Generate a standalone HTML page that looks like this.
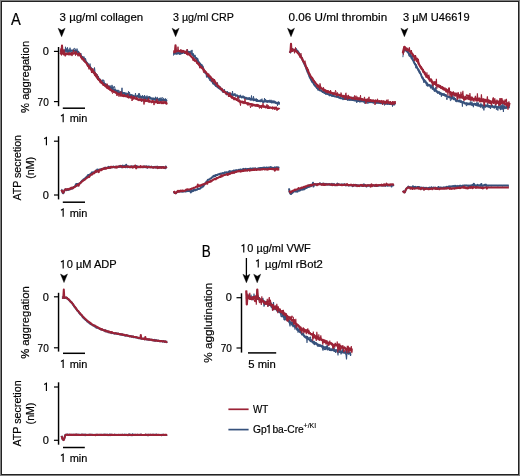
<!DOCTYPE html>
<html><head><meta charset="utf-8"><style>
html,body{margin:0;padding:0;background:#fff;}
#fig{position:relative;width:520px;height:476px;overflow:hidden;background:#fff;}
#fig svg{position:absolute;left:0;top:0;will-change:transform;}
text{font-family:"Liberation Sans", sans-serif;fill:#000;stroke:#000;stroke-width:0.2px;}
.one{fill-opacity:0;stroke-opacity:0;}
</style></head><body><div id="fig">
<svg width="520" height="476" viewBox="0 0 520 476">
<rect x="0.5" y="0.5" width="519" height="475" fill="none" stroke="#808080" stroke-width="1"/>
<rect x="1.5" y="1.5" width="517" height="473" fill="none" stroke="#222" stroke-width="1"/>
<text x="11.0" y="25" font-size="16.4" text-anchor="start" textLength="9.8" lengthAdjust="spacingAndGlyphs" >A</text>
<text x="201.8" y="257.0" font-size="16.4" text-anchor="start" textLength="9.0" lengthAdjust="spacingAndGlyphs" >B</text>
<text x="59.6" y="20.5" font-size="11" text-anchor="start" textLength="83.6" lengthAdjust="spacingAndGlyphs" >3 µg/ml collagen</text>
<text x="173.0" y="20.5" font-size="11" text-anchor="start" textLength="60.8" lengthAdjust="spacingAndGlyphs" >3 µg/ml CRP</text>
<text x="288.6" y="20.5" font-size="11" text-anchor="start" textLength="98.6" lengthAdjust="spacingAndGlyphs" >0.06 U/ml thrombin</text>
<text id="t5" x="403.0" y="20.5" font-size="11" text-anchor="start" textLength="66.6" lengthAdjust="spacingAndGlyphs" >3 µM U466<tspan class="one">1</tspan>9</text>
<path d="M458.30,14.12 L460.50,12.80 L460.50,20.50" fill="none" stroke="#000" stroke-width="1.16" stroke-linejoin="miter" stroke-linecap="butt"/>
<path d="M58.1,28.2 L61.6,30.2 L65.1,28.2 L61.6,36.7 Z" fill="#000" stroke="#000" stroke-width="0.4" stroke-linejoin="round"/>
<path d="M172.1,28.2 L175.6,30.2 L179.1,28.2 L175.6,36.7 Z" fill="#000" stroke="#000" stroke-width="0.4" stroke-linejoin="round"/>
<path d="M287.5,28.2 L291.0,30.2 L294.5,28.2 L291.0,36.7 Z" fill="#000" stroke="#000" stroke-width="0.4" stroke-linejoin="round"/>
<path d="M400.9,28.2 L404.4,30.2 L407.9,28.2 L404.4,36.7 Z" fill="#000" stroke="#000" stroke-width="0.4" stroke-linejoin="round"/>
<line x1="58.55" y1="47" x2="58.55" y2="106.2" stroke="#000" stroke-width="1.45"/>
<line x1="53.949999999999996" y1="51.4" x2="58.55" y2="51.4" stroke="#000" stroke-width="1.2"/>
<text x="48.75" y="55.35" font-size="11" text-anchor="end" >0</text>
<line x1="53.949999999999996" y1="101.6" x2="58.55" y2="101.6" stroke="#000" stroke-width="1.2"/>
<text x="48.75" y="105.55" font-size="11" text-anchor="end" textLength="11.2" lengthAdjust="spacingAndGlyphs" >70</text>
<text transform="translate(29.1,76.9) rotate(-90)" font-size="11.8" text-anchor="middle" textLength="72.0" lengthAdjust="spacingAndGlyphs">% aggregation</text>
<line x1="62.8" y1="108.2" x2="85.0" y2="108.2" stroke="#000" stroke-width="1.5"/>
<text id="t8" x="60.6" y="122.3" font-size="11" text-anchor="start" textLength="26.8" lengthAdjust="spacingAndGlyphs" ><tspan class="one">1</tspan> min</text>
<path d="M60.96,115.92 L63.16,114.60 L63.16,122.30" fill="none" stroke="#000" stroke-width="1.16" stroke-linejoin="miter" stroke-linecap="butt"/>
<line x1="58.55" y1="136.2" x2="58.55" y2="199.4" stroke="#000" stroke-width="1.45"/>
<line x1="53.949999999999996" y1="141.2" x2="58.55" y2="141.2" stroke="#000" stroke-width="1.2"/>
<text id="t9" x="48.75" y="145.14999999999998" font-size="11" text-anchor="end" ><tspan class="one">1</tspan></text>
<path d="M44.22,138.77 L46.42,137.45 L46.42,145.15" fill="none" stroke="#000" stroke-width="1.16" stroke-linejoin="miter" stroke-linecap="butt"/>
<line x1="53.949999999999996" y1="195.0" x2="58.55" y2="195.0" stroke="#000" stroke-width="1.2"/>
<text x="48.75" y="198.95" font-size="11" text-anchor="end" >0</text>
<text transform="translate(21.2,167.8) rotate(-90)" font-size="11.5" text-anchor="middle" textLength="65.6" lengthAdjust="spacingAndGlyphs">ATP secretion</text>
<text transform="translate(34.2,167.8) rotate(-90)" font-size="11" text-anchor="middle" textLength="21.8" lengthAdjust="spacingAndGlyphs">(nM)</text>
<line x1="62.8" y1="202.2" x2="85.0" y2="202.2" stroke="#000" stroke-width="1.5"/>
<text id="t11" x="60.6" y="216.7" font-size="11" text-anchor="start" textLength="26.8" lengthAdjust="spacingAndGlyphs" ><tspan class="one">1</tspan> min</text>
<path d="M60.96,210.32 L63.16,209.00 L63.16,216.70" fill="none" stroke="#000" stroke-width="1.16" stroke-linejoin="miter" stroke-linecap="butt"/>
<text id="t12" x="60.6" y="268.4" font-size="11" text-anchor="start" textLength="56.0" lengthAdjust="spacingAndGlyphs" ><tspan class="one">1</tspan>0 µM ADP</text>
<path d="M60.98,262.02 L63.18,260.70 L63.18,268.40" fill="none" stroke="#000" stroke-width="1.16" stroke-linejoin="miter" stroke-linecap="butt"/>
<path d="M60.5,274.0 L64.0,276.0 L67.5,274.0 L64.0,282.6 Z" fill="#000" stroke="#000" stroke-width="0.4" stroke-linejoin="round"/>
<line x1="58.55" y1="292.8" x2="58.55" y2="351.6" stroke="#000" stroke-width="1.45"/>
<line x1="53.949999999999996" y1="296.8" x2="58.55" y2="296.8" stroke="#000" stroke-width="1.2"/>
<text x="48.75" y="300.75" font-size="11" text-anchor="end" >0</text>
<line x1="53.949999999999996" y1="347.8" x2="58.55" y2="347.8" stroke="#000" stroke-width="1.2"/>
<text x="48.75" y="351.75" font-size="11" text-anchor="end" textLength="11.2" lengthAdjust="spacingAndGlyphs" >70</text>
<text transform="translate(29.1,322.5) rotate(-90)" font-size="11.8" text-anchor="middle" textLength="72.6" lengthAdjust="spacingAndGlyphs">% aggregation</text>
<line x1="63.0" y1="353.3" x2="85.0" y2="353.3" stroke="#000" stroke-width="1.5"/>
<text id="t15" x="60.6" y="368.0" font-size="11" text-anchor="start" textLength="26.8" lengthAdjust="spacingAndGlyphs" ><tspan class="one">1</tspan> min</text>
<path d="M60.96,361.62 L63.16,360.30 L63.16,368.00" fill="none" stroke="#000" stroke-width="1.16" stroke-linejoin="miter" stroke-linecap="butt"/>
<line x1="58.55" y1="382.3" x2="58.55" y2="444.7" stroke="#000" stroke-width="1.45"/>
<line x1="53.949999999999996" y1="387.0" x2="58.55" y2="387.0" stroke="#000" stroke-width="1.2"/>
<text id="t16" x="48.75" y="390.95" font-size="11" text-anchor="end" ><tspan class="one">1</tspan></text>
<path d="M44.22,384.57 L46.42,383.25 L46.42,390.95" fill="none" stroke="#000" stroke-width="1.16" stroke-linejoin="miter" stroke-linecap="butt"/>
<line x1="53.949999999999996" y1="440.3" x2="58.55" y2="440.3" stroke="#000" stroke-width="1.2"/>
<text x="48.75" y="444.25" font-size="11" text-anchor="end" >0</text>
<text transform="translate(21.2,413.5) rotate(-90)" font-size="11.5" text-anchor="middle" textLength="66.2" lengthAdjust="spacingAndGlyphs">ATP secretion</text>
<text transform="translate(34.2,413.5) rotate(-90)" font-size="11" text-anchor="middle" textLength="21.8" lengthAdjust="spacingAndGlyphs">(nM)</text>
<line x1="63.0" y1="447.5" x2="84.8" y2="447.5" stroke="#000" stroke-width="1.5"/>
<text id="t18" x="60.6" y="462.0" font-size="11" text-anchor="start" textLength="26.8" lengthAdjust="spacingAndGlyphs" ><tspan class="one">1</tspan> min</text>
<path d="M60.96,455.62 L63.16,454.30 L63.16,462.00" fill="none" stroke="#000" stroke-width="1.16" stroke-linejoin="miter" stroke-linecap="butt"/>
<text id="t19" x="241.2" y="252.4" font-size="11" text-anchor="start" textLength="69.6" lengthAdjust="spacingAndGlyphs" ><tspan class="one">1</tspan>0 µg/ml VWF</text>
<path d="M241.56,246.02 L243.76,244.70 L243.76,252.40" fill="none" stroke="#000" stroke-width="1.16" stroke-linejoin="miter" stroke-linecap="butt"/>
<text id="t20" x="255.6" y="267.6" font-size="11" text-anchor="start" textLength="67.2" lengthAdjust="spacingAndGlyphs" ><tspan class="one">1</tspan> µg/ml rBot2</text>
<path d="M256.03,261.22 L258.23,259.90 L258.23,267.60" fill="none" stroke="#000" stroke-width="1.16" stroke-linejoin="miter" stroke-linecap="butt"/>
<line x1="246.4" y1="258" x2="246.4" y2="277" stroke="#000" stroke-width="1.3"/>
<path d="M242.9,274.2 L246.4,276.2 L249.9,274.2 L246.4,282.8 Z" fill="#000" stroke="#000" stroke-width="0.4" stroke-linejoin="round"/>
<path d="M253.7,274.2 L257.2,276.2 L260.7,274.2 L257.2,282.8 Z" fill="#000" stroke="#000" stroke-width="0.4" stroke-linejoin="round"/>
<line x1="241.5" y1="293.3" x2="241.5" y2="352.6" stroke="#000" stroke-width="1.45"/>
<line x1="236.5" y1="297.7" x2="241.5" y2="297.7" stroke="#000" stroke-width="1.2"/>
<text x="231.9" y="301.2" font-size="11" text-anchor="end" >0</text>
<line x1="236.5" y1="348.0" x2="241.5" y2="348.0" stroke="#000" stroke-width="1.2"/>
<text x="231.9" y="351.5" font-size="11" text-anchor="end" textLength="11.2" lengthAdjust="spacingAndGlyphs" >70</text>
<text transform="translate(211.5,322.7) rotate(-90)" font-size="11.8" text-anchor="middle" textLength="80.0" lengthAdjust="spacingAndGlyphs">% agglutination</text>
<line x1="248.0" y1="352.9" x2="276.2" y2="352.9" stroke="#000" stroke-width="1.5"/>
<text x="248.3" y="367.9" font-size="11" text-anchor="start" textLength="27.6" lengthAdjust="spacingAndGlyphs" >5 min</text>
<line x1="228.4" y1="409.3" x2="248.6" y2="409.3" stroke="#9c2236" stroke-width="1.7"/>
<line x1="228.4" y1="429.6" x2="248.6" y2="429.6" stroke="#36517c" stroke-width="1.7"/>
<text x="253.0" y="413.2" font-size="11" text-anchor="start" textLength="15.2" lengthAdjust="spacingAndGlyphs" >WT</text>
<text id="t25" x="253.0" y="433.2" font-size="11" text-anchor="start" textLength="50.8" lengthAdjust="spacingAndGlyphs" >Gp<tspan class="one">1</tspan>ba-Cre</text>
<path d="M266.90,426.82 L269.10,425.50 L269.10,433.20" fill="none" stroke="#000" stroke-width="1.16" stroke-linejoin="miter" stroke-linecap="butt"/>
<text x="303.6" y="427.8" font-size="7.2" text-anchor="start" textLength="12.6" lengthAdjust="spacingAndGlyphs" style="stroke-width:0.12px">+/KI</text>
<polyline points="60.0,51.4 60.5,50.2 61.0,50.3 61.5,49.6 62.0,52.1 62.5,47.9 63.0,53.2 63.5,49.9 64.0,51.3 64.5,50.6 65.0,52.8 65.5,46.8 66.0,50.4 66.5,48.6 67.0,52.3 67.5,47.4 68.0,50.6 68.5,49.7 69.0,50.9 69.5,51.6 70.0,47.7 70.5,52.3 71.0,52.0 71.5,54.1 72.0,52.0 72.5,49.9 73.0,50.7 73.5,49.6 74.0,48.3 74.5,48.4 75.0,48.4 75.5,50.4 76.0,50.1 76.5,52.8 77.0,48.6 77.5,51.7 78.0,50.8 78.5,53.1 79.0,52.9 79.5,52.8 80.0,54.1 80.5,53.8 81.0,53.2 81.5,58.3 82.0,56.8 82.5,56.5 83.0,56.4 83.5,61.3 84.0,56.6 84.5,60.6 85.0,60.9 85.5,58.3 86.0,60.3 86.5,62.0 87.0,62.8 87.5,64.5 88.0,65.5 88.5,66.3 89.0,66.1 89.5,67.5 90.0,63.6 90.5,69.3 91.0,69.0 91.5,68.6 92.0,70.3 92.5,71.8 93.0,72.4 93.5,73.6 94.0,72.5 94.5,67.5 95.0,71.7 95.5,73.6 96.0,75.2 96.5,76.9 97.0,76.9 97.5,74.5 98.0,77.4 98.5,76.3 99.0,79.2 99.5,80.4 100.0,79.6 100.5,80.1 101.0,81.1 101.5,81.8 102.0,82.0 102.5,79.7 103.0,81.7 103.5,79.9 104.0,80.2 104.5,85.2 105.0,83.0 105.5,84.7 106.0,84.3 106.5,84.3 107.0,86.0 107.5,84.6 108.0,85.7 108.5,86.5 109.0,85.9 109.5,86.5 110.0,85.4 110.5,87.0 111.0,88.4 111.5,89.0 112.0,84.9 112.5,88.9 113.0,86.4 113.5,88.0 114.0,87.6 114.5,86.4 115.0,88.4 115.5,91.0 116.0,92.0 116.5,90.1 117.0,91.9 117.5,89.9 118.0,91.8 118.5,89.9 119.0,90.6 119.5,92.9 120.0,92.4 120.5,91.6 121.0,91.2 121.5,92.7 122.0,87.8 122.5,94.8 123.0,93.1 123.5,93.9 124.0,92.1 124.5,94.9 125.0,93.7 125.5,93.2 126.0,92.6 126.5,95.0 127.0,95.5 127.5,93.7 128.0,94.1 128.5,91.3 129.0,93.6 129.5,92.2 130.0,94.9 130.5,97.5 131.0,94.2 131.5,96.5 132.0,96.3 132.5,95.9 133.0,95.9 133.5,96.7 134.0,96.3 134.5,97.0 135.0,95.8 135.5,93.1 136.0,97.7 136.5,97.7 137.0,97.1 137.5,95.2 138.0,96.5 138.5,93.5 139.0,96.8 139.5,93.4 140.0,96.3 140.5,95.7 141.0,97.4 141.5,96.8 142.0,101.4 142.5,95.3 143.0,96.6 143.5,97.7 144.0,100.4 144.5,95.1 145.0,96.8 145.5,98.9 146.0,101.1 146.5,97.6 147.0,95.6 147.5,100.7 148.0,97.5 148.5,97.8 149.0,97.6 149.5,96.0 150.0,96.7 150.5,98.9 151.0,99.2 151.5,97.9 152.0,98.5 152.5,97.9 153.0,99.5 153.5,99.2 154.0,99.3 154.5,98.9 155.0,100.6 155.5,96.8 156.0,101.7 156.5,100.7 157.0,97.1 157.5,97.3 158.0,100.2 158.5,100.0 159.0,100.6 159.5,101.0 160.0,99.1 160.5,100.8 161.0,97.5 161.5,101.1 162.0,98.1 162.5,97.6 163.0,97.8 163.5,98.9 164.0,98.6 164.5,100.2 165.0,99.8 165.5,98.5 166.0,101.7 166.5,99.6 167.0,98.8" fill="none" stroke="#36517c" stroke-width="1.0" stroke-linejoin="miter" stroke-miterlimit="2"/>
<polyline points="60.0,51.3 60.5,51.2 61.0,50.5 61.5,51.3 62.0,51.5 62.5,50.3 63.0,51.2 63.5,51.5 64.0,50.8 64.5,50.7 65.0,50.4 65.5,50.7 66.0,50.8 66.5,50.7 67.0,51.1 67.5,50.6 68.0,52.1 68.5,50.7 69.0,50.7 69.5,50.8 70.0,50.5 70.5,50.5 71.0,50.3 71.5,50.9 72.0,50.7 72.5,50.9 73.0,50.3 73.5,50.9 74.0,50.3 74.5,50.6 75.0,51.1 75.5,50.4 76.0,51.1 76.5,51.3 77.0,51.6 77.5,51.8 78.0,52.2 78.5,52.0 79.0,53.8 79.5,54.2 80.0,54.8 80.5,55.1 81.0,55.8 81.5,56.9 82.0,56.8 82.5,57.1 83.0,58.4 83.5,58.9 84.0,59.5 84.5,59.3 85.0,61.1 85.5,61.3 86.0,61.9 86.5,62.3 87.0,63.0 87.5,63.5 88.0,64.0 88.5,65.1 89.0,66.1 89.5,66.1 90.0,66.9 90.5,68.0 91.0,67.8 91.5,68.8 92.0,68.9 92.5,70.8 93.0,70.9 93.5,70.9 94.0,71.9 94.5,72.5 95.0,73.9 95.5,73.5 96.0,74.9 96.5,76.1 97.0,76.6 97.5,77.7 98.0,77.7 98.5,79.2 99.0,78.7 99.5,79.3 100.0,79.5 100.5,80.4 101.0,81.1 101.5,81.3 102.0,82.3 102.5,82.6 103.0,82.6 103.5,83.0 104.0,83.1 104.5,83.8 105.0,84.4 105.5,84.6 106.0,84.7 106.5,85.5 107.0,85.1 107.5,86.1 108.0,86.1 108.5,86.9 109.0,86.9 109.5,87.0 110.0,87.1 110.5,87.7 111.0,88.0 111.5,87.6 112.0,88.3 112.5,88.7 113.0,89.5 113.5,89.2 114.0,89.9 114.5,89.8 115.0,90.6 115.5,90.2 116.0,91.5 116.5,90.7 117.0,91.5 117.5,92.2 118.0,92.0 118.5,92.6 119.0,92.2 119.5,92.7 120.0,92.8 120.5,93.3 121.0,92.3 121.5,92.7 122.0,92.7 122.5,93.1 123.0,92.9 123.5,93.3 124.0,93.0 124.5,94.1 125.0,93.8 125.5,93.5 126.0,94.4 126.5,94.2 127.0,95.0 127.5,94.0 128.0,94.2 128.5,94.4 129.0,95.3 129.5,94.8 130.0,95.5 130.5,95.0 131.0,96.6 131.5,95.6 132.0,95.1 132.5,95.7 133.0,96.2 133.5,95.8 134.0,96.1 134.5,96.7 135.0,96.5 135.5,96.5 136.0,96.3 136.5,96.9 137.0,96.2 137.5,96.4 138.0,96.2 138.5,96.9 139.0,96.5 139.5,97.3 140.0,97.4 140.5,97.3 141.0,96.7 141.5,97.0 142.0,96.7 142.5,96.7 143.0,96.9 143.5,97.5 144.0,97.3 144.5,97.9 145.0,98.3 145.5,97.3 146.0,98.0 146.5,97.9 147.0,97.5 147.5,98.0 148.0,98.2 148.5,97.2 149.0,97.8 149.5,97.8 150.0,98.4 150.5,98.0 151.0,98.2 151.5,98.8 152.0,98.9 152.5,99.5 153.0,98.3 153.5,98.9 154.0,98.5 154.5,99.3 155.0,98.9 155.5,99.6 156.0,99.8 156.5,99.2 157.0,98.9 157.5,99.0 158.0,99.6 158.5,99.9 159.0,100.3 159.5,98.6 160.0,99.2 160.5,100.1 161.0,99.9 161.5,100.0 162.0,100.5 162.5,99.8 163.0,99.5 163.5,100.1 164.0,99.8 164.5,100.2 165.0,100.1 165.5,99.8 166.0,100.9 166.5,100.6 167.0,100.1" fill="none" stroke="#36517c" stroke-width="1.9" stroke-linejoin="round"/>
<polyline points="60.0,53.4 60.5,52.2 61.0,48.4 61.5,55.4 62.0,45.6 62.5,53.0 63.0,54.3 63.5,52.6 64.0,49.4 64.5,52.9 65.0,56.4 65.5,56.1 66.0,53.8 66.5,52.7 67.0,54.3 67.5,53.2 68.0,53.8 68.5,55.0 69.0,53.1 69.5,53.8 70.0,52.9 70.5,53.6 71.0,54.0 71.5,52.7 72.0,56.1 72.5,53.4 73.0,53.0 73.5,49.9 74.0,52.1 74.5,53.3 75.0,53.2 75.5,55.6 76.0,51.0 76.5,53.6 77.0,54.1 77.5,55.3 78.0,56.3 78.5,53.7 79.0,52.6 79.5,55.9 80.0,52.9 80.5,54.6 81.0,54.9 81.5,59.0 82.0,59.2 82.5,60.3 83.0,59.5 83.5,59.5 84.0,59.3 84.5,60.9 85.0,62.5 85.5,61.8 86.0,62.4 86.5,63.4 87.0,64.6 87.5,66.1 88.0,64.8 88.5,66.6 89.0,69.4 89.5,65.5 90.0,67.6 90.5,68.6 91.0,69.3 91.5,73.0 92.0,68.6 92.5,71.3 93.0,68.5 93.5,71.1 94.0,72.5 94.5,71.5 95.0,71.9 95.5,76.2 96.0,73.1 96.5,76.9 97.0,74.6 97.5,79.9 98.0,76.3 98.5,79.5 99.0,80.8 99.5,79.8 100.0,81.0 100.5,79.0 101.0,82.9 101.5,83.8 102.0,82.7 102.5,82.1 103.0,85.3 103.5,85.6 104.0,84.4 104.5,85.6 105.0,86.1 105.5,86.6 106.0,86.7 106.5,88.3 107.0,83.6 107.5,88.6 108.0,88.4 108.5,85.8 109.0,89.9 109.5,86.7 110.0,90.6 110.5,90.1 111.0,88.9 111.5,90.8 112.0,92.1 112.5,93.5 113.0,93.1 113.5,92.0 114.0,91.1 114.5,93.0 115.0,92.0 115.5,92.1 116.0,92.0 116.5,94.3 117.0,96.0 117.5,93.0 118.0,93.1 118.5,93.1 119.0,96.7 119.5,92.9 120.0,93.6 120.5,95.2 121.0,91.5 121.5,92.3 122.0,96.1 122.5,94.7 123.0,96.3 123.5,94.7 124.0,96.9 124.5,94.2 125.0,96.0 125.5,95.7 126.0,95.3 126.5,97.1 127.0,96.4 127.5,94.9 128.0,93.9 128.5,97.8 129.0,97.6 129.5,97.3 130.0,95.9 130.5,97.2 131.0,96.0 131.5,95.6 132.0,101.0 132.5,98.9 133.0,99.8 133.5,97.7 134.0,96.2 134.5,97.0 135.0,99.1 135.5,98.6 136.0,98.5 136.5,96.8 137.0,99.5 137.5,99.5 138.0,100.3 138.5,99.0 139.0,101.1 139.5,99.1 140.0,98.4 140.5,100.7 141.0,99.4 141.5,101.6 142.0,100.2 142.5,100.9 143.0,98.9 143.5,100.8 144.0,104.5 144.5,101.3 145.0,102.1 145.5,98.7 146.0,101.1 146.5,101.6 147.0,100.5 147.5,100.1 148.0,101.4 148.5,97.9 149.0,100.6 149.5,102.4 150.0,102.6 150.5,101.6 151.0,101.0 151.5,103.2 152.0,102.4 152.5,102.2 153.0,100.2 153.5,101.4 154.0,105.1 154.5,102.5 155.0,102.8 155.5,102.7 156.0,100.9 156.5,101.3 157.0,98.9 157.5,104.0 158.0,102.4 158.5,102.8 159.0,103.4 159.5,102.0 160.0,101.3 160.5,102.0 161.0,101.0 161.5,104.1 162.0,103.5 162.5,103.4 163.0,100.7 163.5,103.5 164.0,101.7 164.5,102.7 165.0,101.1 165.5,103.3 166.0,102.7 166.5,101.7 167.0,102.4" fill="none" stroke="#9c2236" stroke-width="1.0" stroke-linejoin="miter" stroke-miterlimit="2"/>
<polyline points="60.0,53.9 60.5,53.6 61.0,53.7 61.5,53.3 62.0,45.6 62.5,53.4 63.0,53.4 63.5,53.5 64.0,54.4 64.5,53.4 65.0,54.1 65.5,54.0 66.0,53.6 66.5,54.1 67.0,54.2 67.5,53.7 68.0,53.9 68.5,53.4 69.0,54.5 69.5,53.2 70.0,53.7 70.5,54.3 71.0,54.0 71.5,54.1 72.0,53.2 72.5,53.5 73.0,53.3 73.5,53.7 74.0,53.2 74.5,53.2 75.0,52.9 75.5,53.2 76.0,53.4 76.5,53.6 77.0,53.8 77.5,54.2 78.0,54.2 78.5,54.3 79.0,54.9 79.5,55.4 80.0,55.6 80.5,55.8 81.0,56.9 81.5,57.7 82.0,58.5 82.5,58.3 83.0,58.6 83.5,59.6 84.0,59.7 84.5,61.2 85.0,61.4 85.5,62.1 86.0,62.7 86.5,63.2 87.0,64.1 87.5,64.9 88.0,66.1 88.5,66.0 89.0,67.1 89.5,67.1 90.0,67.7 90.5,68.5 91.0,69.7 91.5,69.7 92.0,70.6 92.5,71.8 93.0,72.1 93.5,72.5 94.0,72.8 94.5,73.7 95.0,75.2 95.5,74.9 96.0,76.2 96.5,76.8 97.0,77.7 97.5,77.8 98.0,78.9 98.5,79.5 99.0,79.7 99.5,80.2 100.0,81.4 100.5,82.4 101.0,81.6 101.5,82.0 102.0,82.8 102.5,83.6 103.0,83.9 103.5,85.0 104.0,84.9 104.5,84.7 105.0,85.8 105.5,86.5 106.0,86.4 106.5,86.7 107.0,86.9 107.5,88.0 108.0,88.2 108.5,87.9 109.0,88.6 109.5,88.6 110.0,89.2 110.5,90.1 111.0,90.1 111.5,90.2 112.0,90.9 112.5,91.1 113.0,91.0 113.5,91.2 114.0,91.7 114.5,91.8 115.0,92.4 115.5,92.6 116.0,92.4 116.5,93.4 117.0,93.3 117.5,93.6 118.0,94.0 118.5,94.2 119.0,93.9 119.5,94.4 120.0,94.6 120.5,94.6 121.0,95.7 121.5,95.5 122.0,95.4 122.5,95.4 123.0,95.9 123.5,95.3 124.0,96.1 124.5,95.9 125.0,96.2 125.5,96.0 126.0,96.0 126.5,96.1 127.0,96.5 127.5,96.7 128.0,97.1 128.5,97.4 129.0,97.0 129.5,97.2 130.0,97.4 130.5,97.6 131.0,97.5 131.5,97.1 132.0,97.2 132.5,97.9 133.0,98.2 133.5,97.4 134.0,98.2 134.5,98.0 135.0,98.4 135.5,98.6 136.0,98.9 136.5,99.1 137.0,98.4 137.5,98.8 138.0,99.6 138.5,99.8 139.0,99.5 139.5,99.6 140.0,99.8 140.5,99.4 141.0,100.3 141.5,99.5 142.0,100.2 142.5,100.0 143.0,100.1 143.5,99.7 144.0,100.2 144.5,100.2 145.0,101.0 145.5,100.1 146.0,100.7 146.5,100.9 147.0,100.7 147.5,100.9 148.0,100.6 148.5,101.6 149.0,101.4 149.5,100.7 150.0,101.1 150.5,101.4 151.0,101.6 151.5,101.7 152.0,101.3 152.5,100.9 153.0,102.0 153.5,101.7 154.0,101.7 154.5,101.9 155.0,101.7 155.5,101.8 156.0,102.5 156.5,101.7 157.0,102.0 157.5,101.6 158.0,101.7 158.5,102.6 159.0,102.9 159.5,102.5 160.0,102.6 160.5,102.7 161.0,102.4 161.5,102.3 162.0,102.9 162.5,102.8 163.0,103.2 163.5,103.0 164.0,102.5 164.5,102.6 165.0,102.5 165.5,103.0 166.0,102.6 166.5,103.7 167.0,102.9" fill="none" stroke="#9c2236" stroke-width="2.1" stroke-linejoin="round"/>
<polyline points="173.5,55.6 174.0,52.2 174.5,53.7 175.0,51.5 175.5,53.2 176.0,50.7 176.5,53.4 177.0,52.8 177.5,53.4 178.0,51.5 178.5,51.9 179.0,54.3 179.5,54.2 180.0,55.0 180.5,53.1 181.0,52.5 181.5,52.3 182.0,51.1 182.5,53.8 183.0,51.4 183.5,51.2 184.0,52.2 184.5,54.0 185.0,52.6 185.5,51.1 186.0,51.4 186.5,50.6 187.0,51.9 187.5,49.4 188.0,51.7 188.5,51.0 189.0,52.6 189.5,51.1 190.0,52.0 190.5,52.1 191.0,50.6 191.5,52.6 192.0,49.9 192.5,55.6 193.0,54.7 193.5,53.5 194.0,56.5 194.5,55.9 195.0,54.9 195.5,56.8 196.0,57.5 196.5,57.9 197.0,61.1 197.5,57.9 198.0,59.1 198.5,61.4 199.0,62.2 199.5,62.3 200.0,68.0 200.5,66.1 201.0,63.9 201.5,66.7 202.0,64.5 202.5,66.6 203.0,65.9 203.5,70.0 204.0,71.2 204.5,70.4 205.0,73.5 205.5,71.7 206.0,73.5 206.5,77.4 207.0,73.7 207.5,76.1 208.0,76.3 208.5,75.9 209.0,78.6 209.5,80.1 210.0,80.9 210.5,80.1 211.0,80.9 211.5,81.5 212.0,81.7 212.5,80.5 213.0,84.3 213.5,78.8 214.0,84.2 214.5,85.2 215.0,84.1 215.5,85.6 216.0,84.9 216.5,83.9 217.0,83.1 217.5,82.5 218.0,86.3 218.5,87.1 219.0,87.5 219.5,87.3 220.0,86.2 220.5,88.4 221.0,89.2 221.5,90.4 222.0,89.1 222.5,88.7 223.0,93.0 223.5,91.9 224.0,89.9 224.5,89.2 225.0,92.5 225.5,93.5 226.0,92.6 226.5,95.2 227.0,92.0 227.5,91.4 228.0,93.6 228.5,92.8 229.0,93.4 229.5,93.3 230.0,94.7 230.5,93.3 231.0,94.7 231.5,97.1 232.0,95.0 232.5,91.0 233.0,96.2 233.5,94.1 234.0,95.4 234.5,94.2 235.0,93.3 235.5,95.6 236.0,95.8 236.5,95.5 237.0,96.0 237.5,95.2 238.0,98.3 238.5,96.0 239.0,98.4 239.5,97.3 240.0,96.0 240.5,94.8 241.0,96.3 241.5,96.4 242.0,98.0 242.5,96.6 243.0,95.5 243.5,96.4 244.0,97.7 244.5,97.8 245.0,99.2 245.5,97.1 246.0,98.8 246.5,98.6 247.0,98.1 247.5,99.3 248.0,99.0 248.5,97.7 249.0,99.9 249.5,97.5 250.0,99.0 250.5,100.3 251.0,99.6 251.5,95.5 252.0,99.4 252.5,99.4 253.0,99.6 253.5,96.3 254.0,99.9 254.5,99.6 255.0,98.6 255.5,100.0 256.0,98.7 256.5,98.7 257.0,102.0 257.5,99.3 258.0,101.0 258.5,101.6 259.0,100.0 259.5,100.3 260.0,100.3 260.5,100.8 261.0,99.2 261.5,99.7 262.0,98.7 262.5,102.3 263.0,101.9 263.5,103.1 264.0,102.0 264.5,98.1 265.0,101.2 265.5,99.2 266.0,100.4 266.5,100.4 267.0,101.8 267.5,102.3 268.0,102.5 268.5,101.0 269.0,100.0 269.5,100.0 270.0,102.1 270.5,102.3 271.0,99.8 271.5,102.7 272.0,103.3 272.5,100.6 273.0,101.5 273.5,101.8 274.0,100.6 274.5,102.2 275.0,102.8 275.5,103.2 276.0,103.9 276.5,103.7 277.0,102.4 277.5,105.8 278.0,102.2 278.5,102.0 279.0,104.8 279.5,102.3" fill="none" stroke="#36517c" stroke-width="1.0" stroke-linejoin="miter" stroke-miterlimit="2"/>
<polyline points="173.5,54.3 174.0,53.8 174.5,53.4 175.0,53.2 175.5,53.5 176.0,53.6 176.5,53.9 177.0,53.5 177.5,53.5 178.0,53.1 178.5,53.3 179.0,53.1 179.5,53.3 180.0,53.0 180.5,52.8 181.0,53.5 181.5,52.6 182.0,52.8 182.5,51.7 183.0,52.5 183.5,52.3 184.0,52.6 184.5,52.1 185.0,52.3 185.5,52.2 186.0,52.2 186.5,52.7 187.0,51.8 187.5,51.7 188.0,52.1 188.5,52.1 189.0,51.9 189.5,52.9 190.0,52.7 190.5,53.2 191.0,53.4 191.5,53.3 192.0,54.2 192.5,54.2 193.0,54.5 193.5,55.6 194.0,56.4 194.5,56.2 195.0,57.0 195.5,58.2 196.0,57.9 196.5,58.5 197.0,59.5 197.5,60.9 198.0,61.4 198.5,62.1 199.0,62.2 199.5,63.0 200.0,63.4 200.5,64.9 201.0,64.8 201.5,65.9 202.0,66.4 202.5,66.9 203.0,67.8 203.5,68.9 204.0,69.9 204.5,70.7 205.0,71.9 205.5,72.7 206.0,73.2 206.5,74.0 207.0,74.6 207.5,75.5 208.0,76.8 208.5,76.8 209.0,77.9 209.5,78.1 210.0,78.5 210.5,79.5 211.0,79.9 211.5,81.4 212.0,81.5 212.5,81.4 213.0,82.9 213.5,83.3 214.0,83.8 214.5,84.1 215.0,84.6 215.5,85.5 216.0,86.2 216.5,86.4 217.0,86.6 217.5,87.0 218.0,87.2 218.5,88.1 219.0,88.1 219.5,88.7 220.0,88.7 220.5,88.9 221.0,88.8 221.5,90.4 222.0,89.7 222.5,91.0 223.0,90.3 223.5,90.7 224.0,91.3 224.5,91.9 225.0,91.7 225.5,92.5 226.0,91.9 226.5,92.4 227.0,93.0 227.5,92.5 228.0,93.1 228.5,93.3 229.0,93.2 229.5,94.1 230.0,93.5 230.5,93.9 231.0,94.2 231.5,94.2 232.0,94.7 232.5,94.5 233.0,94.7 233.5,94.7 234.0,94.5 234.5,94.7 235.0,95.2 235.5,95.5 236.0,95.9 236.5,95.2 237.0,95.6 237.5,95.5 238.0,96.2 238.5,96.7 239.0,96.5 239.5,96.7 240.0,96.1 240.5,96.9 241.0,96.9 241.5,97.4 242.0,97.0 242.5,97.1 243.0,97.4 243.5,97.5 244.0,97.0 244.5,97.9 245.0,97.5 245.5,98.1 246.0,97.7 246.5,98.8 247.0,98.3 247.5,98.2 248.0,98.8 248.5,98.6 249.0,98.4 249.5,99.2 250.0,98.5 250.5,99.3 251.0,99.5 251.5,99.8 252.0,99.0 252.5,99.6 253.0,99.7 253.5,100.3 254.0,99.5 254.5,100.0 255.0,100.1 255.5,100.4 256.0,100.5 256.5,99.8 257.0,101.1 257.5,100.8 258.0,101.1 258.5,100.7 259.0,101.0 259.5,100.9 260.0,101.3 260.5,101.4 261.0,100.6 261.5,101.1 262.0,101.1 262.5,101.5 263.0,101.5 263.5,101.6 264.0,101.3 264.5,101.2 265.0,101.7 265.5,101.2 266.0,101.3 266.5,101.2 267.0,101.9 267.5,101.2 268.0,101.0 268.5,101.4 269.0,101.7 269.5,101.8 270.0,101.8 270.5,101.9 271.0,101.3 271.5,102.3 272.0,101.9 272.5,102.0 273.0,102.1 273.5,101.4 274.0,102.5 274.5,102.3 275.0,101.7 275.5,102.7 276.0,102.4 276.5,102.9 277.0,103.0 277.5,102.8 278.0,103.0 278.5,102.3 279.0,103.0 279.5,102.4" fill="none" stroke="#36517c" stroke-width="1.9" stroke-linejoin="round"/>
<polyline points="173.5,52.5 174.0,50.2 174.5,50.9 175.0,52.5 175.5,45.2 176.0,49.6 176.5,50.4 177.0,51.6 177.5,51.2 178.0,46.7 178.5,51.5 179.0,50.7 179.5,51.3 180.0,51.3 180.5,49.7 181.0,51.4 181.5,51.6 182.0,52.9 182.5,52.1 183.0,51.5 183.5,50.5 184.0,51.8 184.5,52.1 185.0,50.8 185.5,52.3 186.0,53.0 186.5,54.7 187.0,49.1 187.5,55.3 188.0,52.3 188.5,53.5 189.0,55.2 189.5,55.1 190.0,52.8 190.5,54.6 191.0,57.2 191.5,57.4 192.0,58.3 192.5,57.5 193.0,60.6 193.5,57.6 194.0,59.9 194.5,61.5 195.0,60.4 195.5,60.8 196.0,59.6 196.5,61.7 197.0,64.0 197.5,63.0 198.0,62.8 198.5,65.2 199.0,62.8 199.5,65.4 200.0,68.3 200.5,65.6 201.0,67.2 201.5,66.0 202.0,68.7 202.5,69.2 203.0,69.6 203.5,72.5 204.0,72.3 204.5,71.0 205.0,70.6 205.5,72.3 206.0,71.5 206.5,74.5 207.0,72.9 207.5,76.1 208.0,76.8 208.5,76.3 209.0,75.8 209.5,77.5 210.0,76.3 210.5,77.8 211.0,77.4 211.5,79.5 212.0,81.8 212.5,80.1 213.0,79.4 213.5,79.2 214.0,83.4 214.5,79.0 215.0,81.5 215.5,81.6 216.0,83.0 216.5,83.3 217.0,82.8 217.5,86.1 218.0,85.5 218.5,86.3 219.0,87.0 219.5,87.5 220.0,87.4 220.5,89.4 221.0,89.4 221.5,88.7 222.0,89.5 222.5,89.1 223.0,90.9 223.5,91.8 224.0,92.1 224.5,92.5 225.0,92.0 225.5,94.3 226.0,92.7 226.5,93.3 227.0,93.3 227.5,94.1 228.0,94.1 228.5,97.0 229.0,95.6 229.5,93.6 230.0,92.4 230.5,94.6 231.0,97.4 231.5,98.3 232.0,96.6 232.5,98.1 233.0,97.5 233.5,98.5 234.0,100.2 234.5,98.2 235.0,97.5 235.5,99.9 236.0,99.9 236.5,100.3 237.0,101.0 237.5,99.3 238.0,96.6 238.5,98.9 239.0,100.2 239.5,99.6 240.0,103.1 240.5,105.6 241.0,101.7 241.5,102.0 242.0,102.8 242.5,101.3 243.0,101.0 243.5,101.4 244.0,104.1 244.5,102.4 245.0,98.8 245.5,103.0 246.0,102.6 246.5,103.2 247.0,102.0 247.5,105.1 248.0,105.4 248.5,104.0 249.0,104.2 249.5,103.5 250.0,105.3 250.5,107.8 251.0,106.3 251.5,105.4 252.0,106.6 252.5,104.5 253.0,106.2 253.5,104.5 254.0,106.0 254.5,105.2 255.0,104.4 255.5,105.2 256.0,106.6 256.5,105.9 257.0,103.9 257.5,105.7 258.0,104.1 258.5,106.9 259.0,106.5 259.5,108.4 260.0,107.3 260.5,106.7 261.0,106.3 261.5,108.6 262.0,106.1 262.5,106.2 263.0,103.2 263.5,106.9 264.0,107.8 264.5,106.1 265.0,106.4 265.5,106.4 266.0,106.6 266.5,106.4 267.0,104.3 267.5,108.7 268.0,105.1 268.5,106.3 269.0,107.8 269.5,108.6 270.0,107.3 270.5,107.3 271.0,107.7 271.5,107.5 272.0,108.8 272.5,109.4 273.0,106.9 273.5,107.5 274.0,108.2 274.5,109.5 275.0,110.0 275.5,107.8 276.0,106.7 276.5,106.9 277.0,110.8 277.5,108.1 278.0,109.1 278.5,108.2 279.0,108.0 279.5,108.6" fill="none" stroke="#9c2236" stroke-width="1.0" stroke-linejoin="miter" stroke-miterlimit="2"/>
<polyline points="173.5,52.2 174.0,52.3 174.5,52.2 175.0,52.2 175.5,45.2 176.0,51.5 176.5,51.1 177.0,51.2 177.5,51.3 178.0,50.9 178.5,50.6 179.0,50.9 179.5,51.2 180.0,51.5 180.5,51.2 181.0,50.3 181.5,51.3 182.0,50.9 182.5,51.4 183.0,50.9 183.5,51.3 184.0,51.4 184.5,52.1 185.0,52.5 185.5,52.8 186.0,52.1 186.5,52.6 187.0,53.0 187.5,53.5 188.0,53.8 188.5,54.1 189.0,54.4 189.5,54.9 190.0,55.4 190.5,55.6 191.0,56.3 191.5,56.8 192.0,57.1 192.5,57.4 193.0,58.1 193.5,58.9 194.0,60.2 194.5,59.4 195.0,60.3 195.5,60.7 196.0,61.0 196.5,61.8 197.0,62.4 197.5,63.0 198.0,63.7 198.5,64.2 199.0,64.9 199.5,65.3 200.0,66.6 200.5,66.7 201.0,67.1 201.5,67.2 202.0,68.1 202.5,68.7 203.0,68.5 203.5,69.6 204.0,70.4 204.5,70.7 205.0,71.5 205.5,71.8 206.0,72.9 206.5,73.1 207.0,74.0 207.5,74.1 208.0,74.5 208.5,74.3 209.0,76.0 209.5,76.2 210.0,76.3 210.5,76.8 211.0,77.7 211.5,78.2 212.0,78.6 212.5,79.4 213.0,79.6 213.5,80.5 214.0,80.6 214.5,81.1 215.0,81.8 215.5,82.4 216.0,83.7 216.5,84.1 217.0,85.1 217.5,85.2 218.0,86.2 218.5,86.5 219.0,86.4 219.5,87.4 220.0,87.8 220.5,88.4 221.0,88.9 221.5,88.7 222.0,89.9 222.5,90.2 223.0,91.0 223.5,91.6 224.0,91.1 224.5,92.0 225.0,92.1 225.5,92.5 226.0,93.0 226.5,93.3 227.0,93.3 227.5,93.9 228.0,94.0 228.5,94.5 229.0,95.4 229.5,95.9 230.0,95.8 230.5,96.1 231.0,96.7 231.5,96.3 232.0,97.6 232.5,97.2 233.0,98.1 233.5,97.9 234.0,98.6 234.5,98.2 235.0,99.1 235.5,98.9 236.0,98.8 236.5,99.6 237.0,99.7 237.5,100.2 238.0,100.6 238.5,100.7 239.0,101.4 239.5,101.6 240.0,101.2 240.5,101.8 241.0,101.5 241.5,101.9 242.0,101.5 242.5,102.5 243.0,102.7 243.5,102.0 244.0,102.3 244.5,102.6 245.0,102.6 245.5,102.9 246.0,102.9 246.5,103.4 247.0,103.7 247.5,103.5 248.0,103.2 248.5,104.3 249.0,103.6 249.5,103.9 250.0,104.2 250.5,104.3 251.0,104.0 251.5,104.7 252.0,104.1 252.5,105.2 253.0,104.8 253.5,104.6 254.0,105.1 254.5,105.5 255.0,105.1 255.5,105.3 256.0,105.6 256.5,105.0 257.0,105.2 257.5,106.0 258.0,105.9 258.5,105.6 259.0,105.8 259.5,105.7 260.0,106.1 260.5,106.9 261.0,106.2 261.5,105.9 262.0,106.6 262.5,106.2 263.0,106.5 263.5,106.4 264.0,106.4 264.5,106.6 265.0,106.6 265.5,107.4 266.0,107.4 266.5,106.6 267.0,107.1 267.5,107.3 268.0,107.0 268.5,108.0 269.0,107.7 269.5,107.3 270.0,107.5 270.5,107.8 271.0,107.8 271.5,107.8 272.0,108.0 272.5,107.4 273.0,108.0 273.5,108.2 274.0,107.9 274.5,108.3 275.0,107.6 275.5,107.9 276.0,108.2 276.5,108.5 277.0,108.6 277.5,109.0 278.0,108.8 278.5,108.7 279.0,108.8 279.5,109.3" fill="none" stroke="#9c2236" stroke-width="2.1" stroke-linejoin="round"/>
<polyline points="289.5,52.3 290.0,51.5 290.5,53.3 291.0,51.1 291.5,51.2 292.0,52.0 292.5,48.1 293.0,50.1 293.5,50.5 294.0,49.9 294.5,49.1 295.0,52.0 295.5,49.5 296.0,48.0 296.5,50.3 297.0,50.2 297.5,52.1 298.0,53.2 298.5,51.4 299.0,53.6 299.5,53.2 300.0,54.2 300.5,55.1 301.0,56.4 301.5,56.1 302.0,59.2 302.5,59.8 303.0,60.6 303.5,62.0 304.0,63.0 304.5,64.8 305.0,66.5 305.5,66.6 306.0,67.8 306.5,68.0 307.0,70.6 307.5,71.8 308.0,72.3 308.5,72.2 309.0,76.2 309.5,78.2 310.0,77.0 310.5,78.4 311.0,79.6 311.5,80.4 312.0,82.0 312.5,82.8 313.0,83.1 313.5,83.3 314.0,84.2 314.5,85.9 315.0,85.8 315.5,85.4 316.0,86.4 316.5,87.1 317.0,88.8 317.5,88.4 318.0,90.5 318.5,89.7 319.0,87.5 319.5,89.7 320.0,91.0 320.5,90.4 321.0,90.3 321.5,91.5 322.0,91.4 322.5,92.5 323.0,91.9 323.5,90.2 324.0,93.0 324.5,91.3 325.0,93.9 325.5,94.4 326.0,93.0 326.5,92.7 327.0,92.8 327.5,94.6 328.0,94.0 328.5,93.9 329.0,94.3 329.5,96.2 330.0,95.1 330.5,95.6 331.0,95.7 331.5,96.1 332.0,96.2 332.5,95.1 333.0,93.9 333.5,95.4 334.0,95.6 334.5,97.0 335.0,96.0 335.5,96.4 336.0,96.1 336.5,96.3 337.0,97.4 337.5,96.7 338.0,96.8 338.5,97.6 339.0,97.8 339.5,98.1 340.0,97.8 340.5,96.6 341.0,98.4 341.5,98.4 342.0,98.9 342.5,97.7 343.0,100.1 343.5,97.6 344.0,99.1 344.5,98.7 345.0,98.4 345.5,97.3 346.0,98.7 346.5,97.4 347.0,98.3 347.5,99.5 348.0,100.8 348.5,98.3 349.0,99.4 349.5,100.5 350.0,100.0 350.5,99.4 351.0,98.7 351.5,98.6 352.0,99.4 352.5,99.7 353.0,96.8 353.5,98.9 354.0,100.4 354.5,99.0 355.0,99.8 355.5,100.1 356.0,99.9 356.5,102.7 357.0,101.7 357.5,102.1 358.0,101.2 358.5,101.3 359.0,101.9 359.5,102.1 360.0,102.0 360.5,101.9 361.0,100.6 361.5,100.0 362.0,101.8 362.5,101.2 363.0,101.3 363.5,100.7 364.0,100.5 364.5,102.4 365.0,103.8 365.5,100.8 366.0,101.9 366.5,101.9 367.0,102.1 367.5,103.3 368.0,103.8 368.5,101.0 369.0,101.9 369.5,101.5 370.0,102.4 370.5,102.2 371.0,100.4 371.5,101.7 372.0,102.5 372.5,101.9 373.0,102.6 373.5,102.1 374.0,101.6 374.5,102.7 375.0,102.7 375.5,103.5 376.0,102.8 376.5,102.9 377.0,102.7 377.5,102.6 378.0,101.0 378.5,101.7 379.0,102.2 379.5,101.1 380.0,102.4 380.5,101.7 381.0,102.8 381.5,102.3 382.0,102.9 382.5,103.4 383.0,102.8 383.5,102.3 384.0,102.8 384.5,105.4 385.0,104.1 385.5,103.9 386.0,103.6 386.5,102.7 387.0,104.1 387.5,104.6 388.0,103.4 388.5,104.2 389.0,104.1 389.5,104.0 390.0,102.9 390.5,103.3 391.0,102.6 391.5,104.0 392.0,103.9 392.5,106.6 393.0,101.8 393.5,103.8 394.0,105.5 394.5,103.4 395.0,103.2 395.5,103.8" fill="none" stroke="#36517c" stroke-width="1.0" stroke-linejoin="miter" stroke-miterlimit="2"/>
<polyline points="289.5,52.1 290.0,52.1 290.5,51.4 291.0,51.5 291.5,51.1 292.0,51.0 292.5,50.4 293.0,50.4 293.5,50.2 294.0,50.0 294.5,49.9 295.0,50.3 295.5,50.0 296.0,50.3 296.5,50.2 297.0,50.5 297.5,50.9 298.0,51.8 298.5,52.4 299.0,53.4 299.5,53.9 300.0,55.0 300.5,55.7 301.0,56.6 301.5,58.0 302.0,58.4 302.5,60.0 303.0,60.8 303.5,62.3 304.0,63.0 304.5,64.3 305.0,65.2 305.5,66.2 306.0,67.6 306.5,69.3 307.0,70.2 307.5,72.0 308.0,72.7 308.5,74.1 309.0,74.7 309.5,76.3 310.0,77.1 310.5,78.6 311.0,79.5 311.5,80.6 312.0,81.2 312.5,82.2 313.0,82.3 313.5,83.1 314.0,84.4 314.5,85.0 315.0,85.3 315.5,86.4 316.0,86.9 316.5,87.4 317.0,88.0 317.5,88.4 318.0,88.8 318.5,89.1 319.0,89.4 319.5,90.2 320.0,89.9 320.5,90.6 321.0,90.5 321.5,90.9 322.0,91.2 322.5,91.7 323.0,92.1 323.5,92.0 324.0,92.6 324.5,92.9 325.0,92.8 325.5,93.4 326.0,93.3 326.5,93.6 327.0,94.0 327.5,93.9 328.0,93.8 328.5,94.4 329.0,94.7 329.5,94.6 330.0,94.4 330.5,95.1 331.0,95.0 331.5,95.4 332.0,95.3 332.5,95.9 333.0,95.3 333.5,96.0 334.0,96.0 334.5,96.3 335.0,96.4 335.5,96.6 336.0,96.5 336.5,96.7 337.0,96.8 337.5,96.7 338.0,97.1 338.5,96.9 339.0,97.6 339.5,97.8 340.0,97.5 340.5,97.8 341.0,98.4 341.5,98.2 342.0,98.3 342.5,98.3 343.0,98.1 343.5,98.3 344.0,99.0 344.5,98.4 345.0,98.8 345.5,99.0 346.0,98.4 346.5,99.1 347.0,98.9 347.5,99.5 348.0,99.2 348.5,99.3 349.0,99.1 349.5,99.5 350.0,99.6 350.5,99.5 351.0,100.0 351.5,99.7 352.0,99.9 352.5,99.6 353.0,100.0 353.5,100.0 354.0,100.2 354.5,100.4 355.0,100.5 355.5,100.4 356.0,100.3 356.5,100.5 357.0,101.0 357.5,100.4 358.0,100.6 358.5,101.0 359.0,101.0 359.5,100.9 360.0,100.7 360.5,101.2 361.0,101.1 361.5,101.3 362.0,101.3 362.5,101.3 363.0,101.0 363.5,101.6 364.0,101.2 364.5,101.5 365.0,101.6 365.5,102.0 366.0,101.5 366.5,101.3 367.0,101.7 367.5,101.4 368.0,101.7 368.5,101.3 369.0,101.8 369.5,102.0 370.0,102.2 370.5,101.8 371.0,101.8 371.5,101.8 372.0,102.2 372.5,102.1 373.0,101.9 373.5,102.7 374.0,102.1 374.5,102.3 375.0,102.3 375.5,102.5 376.0,102.5 376.5,102.7 377.0,102.7 377.5,102.4 378.0,102.9 378.5,102.5 379.0,102.3 379.5,102.9 380.0,102.9 380.5,103.0 381.0,103.3 381.5,102.8 382.0,102.7 382.5,103.2 383.0,102.9 383.5,103.4 384.0,103.1 384.5,103.3 385.0,103.4 385.5,103.3 386.0,103.1 386.5,103.8 387.0,103.6 387.5,103.7 388.0,103.4 388.5,103.4 389.0,103.7 389.5,104.1 390.0,103.8 390.5,103.9 391.0,103.8 391.5,103.9 392.0,104.0 392.5,103.9 393.0,103.5 393.5,104.1 394.0,103.9 394.5,103.9 395.0,104.0 395.5,104.2" fill="none" stroke="#36517c" stroke-width="2.0" stroke-linejoin="round"/>
<polyline points="289.5,51.7 290.0,52.5 290.5,51.6 291.0,43.8 291.5,48.0 292.0,51.5 292.5,51.5 293.0,48.5 293.5,49.4 294.0,49.8 294.5,53.3 295.0,48.9 295.5,47.4 296.0,52.3 296.5,51.5 297.0,52.1 297.5,54.0 298.0,53.0 298.5,54.5 299.0,55.3 299.5,55.4 300.0,57.7 300.5,54.9 301.0,53.3 301.5,58.7 302.0,57.3 302.5,61.2 303.0,61.1 303.5,61.1 304.0,62.8 304.5,62.6 305.0,60.7 305.5,67.6 306.0,67.4 306.5,67.7 307.0,69.9 307.5,67.5 308.0,70.0 308.5,69.6 309.0,73.3 309.5,75.6 310.0,74.5 310.5,75.1 311.0,77.9 311.5,77.5 312.0,76.9 312.5,80.5 313.0,78.9 313.5,79.8 314.0,79.9 314.5,82.1 315.0,83.6 315.5,82.6 316.0,84.1 316.5,83.8 317.0,87.5 317.5,87.1 318.0,85.2 318.5,85.3 319.0,87.7 319.5,89.9 320.0,83.4 320.5,86.1 321.0,89.0 321.5,89.0 322.0,87.9 322.5,89.6 323.0,88.3 323.5,87.3 324.0,90.1 324.5,89.4 325.0,89.2 325.5,92.2 326.0,92.7 326.5,91.4 327.0,90.5 327.5,91.3 328.0,90.0 328.5,91.7 329.0,91.8 329.5,92.3 330.0,93.5 330.5,90.1 331.0,91.7 331.5,92.2 332.0,93.8 332.5,93.3 333.0,94.7 333.5,94.3 334.0,92.7 334.5,94.2 335.0,93.1 335.5,90.3 336.0,91.8 336.5,96.3 337.0,95.1 337.5,92.5 338.0,94.5 338.5,94.9 339.0,94.7 339.5,94.1 340.0,95.5 340.5,95.6 341.0,92.6 341.5,93.7 342.0,95.8 342.5,96.2 343.0,97.5 343.5,95.2 344.0,95.2 344.5,96.0 345.0,99.8 345.5,93.8 346.0,92.8 346.5,97.7 347.0,95.2 347.5,99.7 348.0,96.9 348.5,94.9 349.0,97.7 349.5,97.9 350.0,97.7 350.5,97.8 351.0,97.6 351.5,97.3 352.0,97.6 352.5,98.4 353.0,97.6 353.5,98.6 354.0,97.8 354.5,95.5 355.0,98.3 355.5,97.2 356.0,95.7 356.5,98.8 357.0,96.6 357.5,97.0 358.0,98.8 358.5,99.4 359.0,97.2 359.5,99.8 360.0,98.7 360.5,95.2 361.0,99.9 361.5,98.1 362.0,100.4 362.5,98.5 363.0,99.4 363.5,100.4 364.0,98.9 364.5,96.9 365.0,99.7 365.5,101.4 366.0,103.9 366.5,99.5 367.0,101.9 367.5,100.7 368.0,101.4 368.5,99.4 369.0,96.8 369.5,101.3 370.0,99.9 370.5,99.6 371.0,100.7 371.5,100.6 372.0,101.7 372.5,101.1 373.0,100.3 373.5,100.8 374.0,100.3 374.5,100.6 375.0,104.9 375.5,101.6 376.0,100.7 376.5,100.9 377.0,100.6 377.5,98.8 378.0,100.9 378.5,102.1 379.0,101.2 379.5,100.3 380.0,102.6 380.5,101.9 381.0,100.5 381.5,100.4 382.0,102.7 382.5,104.8 383.0,100.3 383.5,100.9 384.0,103.2 384.5,102.1 385.0,104.3 385.5,102.7 386.0,103.2 386.5,99.8 387.0,101.8 387.5,100.8 388.0,99.5 388.5,103.7 389.0,103.4 389.5,102.1 390.0,103.9 390.5,101.2 391.0,104.6 391.5,103.4 392.0,104.8 392.5,101.2 393.0,104.7 393.5,104.2 394.0,101.0 394.5,102.4 395.0,103.8 395.5,101.1" fill="none" stroke="#9c2236" stroke-width="1.0" stroke-linejoin="miter" stroke-miterlimit="2"/>
<polyline points="289.5,51.8 290.0,52.0 290.5,51.4 291.0,43.8 291.5,51.0 292.0,50.4 292.5,50.0 293.0,50.4 293.5,50.1 294.0,50.3 294.5,50.7 295.0,50.8 295.5,50.9 296.0,50.7 296.5,51.2 297.0,52.0 297.5,52.3 298.0,53.4 298.5,53.5 299.0,53.9 299.5,55.4 300.0,55.7 300.5,56.4 301.0,56.9 301.5,58.0 302.0,58.3 302.5,59.5 303.0,60.9 303.5,61.4 304.0,62.1 304.5,63.3 305.0,63.4 305.5,65.0 306.0,66.8 306.5,67.4 307.0,68.9 307.5,69.6 308.0,70.7 308.5,72.5 309.0,73.1 309.5,73.8 310.0,75.0 310.5,76.0 311.0,76.8 311.5,77.6 312.0,77.9 312.5,78.4 313.0,79.6 313.5,80.6 314.0,81.1 314.5,82.0 315.0,82.0 315.5,83.2 316.0,83.9 316.5,84.3 317.0,84.8 317.5,85.0 318.0,85.7 318.5,86.9 319.0,86.7 319.5,86.4 320.0,88.0 320.5,87.2 321.0,88.1 321.5,88.2 322.0,88.8 322.5,89.4 323.0,89.2 323.5,90.4 324.0,90.3 324.5,89.8 325.0,90.2 325.5,91.0 326.0,90.6 326.5,91.5 327.0,91.0 327.5,92.3 328.0,91.7 328.5,91.7 329.0,91.7 329.5,92.6 330.0,91.9 330.5,92.9 331.0,93.0 331.5,92.8 332.0,92.8 332.5,93.4 333.0,93.1 333.5,93.9 334.0,93.6 334.5,93.3 335.0,94.1 335.5,94.4 336.0,94.3 336.5,94.1 337.0,94.2 337.5,95.0 338.0,95.0 338.5,94.7 339.0,94.7 339.5,94.9 340.0,95.6 340.5,95.0 341.0,95.9 341.5,95.6 342.0,96.0 342.5,96.0 343.0,96.7 343.5,96.0 344.0,96.3 344.5,96.4 345.0,96.3 345.5,96.4 346.0,97.0 346.5,97.0 347.0,97.4 347.5,97.7 348.0,97.4 348.5,97.8 349.0,97.0 349.5,98.1 350.0,97.9 350.5,97.3 351.0,97.8 351.5,97.7 352.0,98.4 352.5,98.7 353.0,98.2 353.5,98.2 354.0,98.2 354.5,98.5 355.0,98.9 355.5,98.6 356.0,98.9 356.5,98.7 357.0,98.7 357.5,99.1 358.0,99.0 358.5,99.1 359.0,98.5 359.5,99.4 360.0,99.5 360.5,99.0 361.0,99.1 361.5,99.6 362.0,99.8 362.5,99.3 363.0,99.9 363.5,99.7 364.0,100.1 364.5,99.4 365.0,99.6 365.5,100.3 366.0,100.3 366.5,99.9 367.0,100.1 367.5,99.3 368.0,100.3 368.5,100.5 369.0,101.0 369.5,100.3 370.0,101.0 370.5,100.0 371.0,100.4 371.5,100.8 372.0,100.3 372.5,101.1 373.0,100.7 373.5,100.3 374.0,101.0 374.5,101.2 375.0,100.9 375.5,100.4 376.0,100.9 376.5,101.2 377.0,101.4 377.5,100.9 378.0,101.2 378.5,101.3 379.0,101.3 379.5,101.6 380.0,101.8 380.5,101.4 381.0,101.9 381.5,101.3 382.0,102.1 382.5,101.9 383.0,101.9 383.5,101.6 384.0,101.6 384.5,102.3 385.0,101.7 385.5,102.2 386.0,102.8 386.5,101.8 387.0,101.9 387.5,102.4 388.0,102.3 388.5,102.1 389.0,102.9 389.5,102.4 390.0,102.1 390.5,102.6 391.0,102.9 391.5,103.0 392.0,102.7 392.5,102.8 393.0,102.8 393.5,103.2 394.0,103.2 394.5,102.6 395.0,103.3 395.5,103.6" fill="none" stroke="#9c2236" stroke-width="2.1" stroke-linejoin="round"/>
<polyline points="402.9,57.2 403.4,51.8 403.9,49.3 404.4,49.9 404.9,49.2 405.4,47.6 405.9,50.4 406.4,49.8 406.9,51.9 407.4,52.1 407.9,48.6 408.4,51.4 408.9,56.1 409.4,56.6 409.9,56.7 410.4,51.6 410.9,57.1 411.4,55.4 411.9,58.6 412.4,56.0 412.9,58.3 413.4,61.1 413.9,61.6 414.4,64.4 414.9,64.8 415.4,63.4 415.9,68.2 416.4,64.5 416.9,68.3 417.4,67.9 417.9,68.5 418.4,71.1 418.9,69.5 419.4,72.4 419.9,70.9 420.4,73.1 420.9,73.5 421.4,75.6 421.9,78.3 422.4,77.2 422.9,79.3 423.4,79.2 423.9,82.8 424.4,80.1 424.9,79.7 425.4,80.2 425.9,80.9 426.4,85.6 426.9,86.0 427.4,84.6 427.9,86.7 428.4,85.2 428.9,85.5 429.4,86.1 429.9,84.3 430.4,86.3 430.9,87.2 431.4,88.0 431.9,84.5 432.4,89.7 432.9,85.0 433.4,86.7 433.9,89.2 434.4,91.7 434.9,89.5 435.4,89.3 435.9,86.8 436.4,89.7 436.9,91.0 437.4,93.4 437.9,93.8 438.4,91.9 438.9,92.7 439.4,91.6 439.9,95.0 440.4,93.1 440.9,94.1 441.4,96.7 441.9,93.9 442.4,93.5 442.9,95.4 443.4,95.9 443.9,93.1 444.4,94.0 444.9,95.1 445.4,94.8 445.9,95.4 446.4,97.5 446.9,99.8 447.4,98.2 447.9,97.1 448.4,97.5 448.9,96.8 449.4,97.0 449.9,96.4 450.4,100.7 450.9,100.5 451.4,99.0 451.9,97.7 452.4,97.7 452.9,94.2 453.4,99.2 453.9,99.4 454.4,97.3 454.9,99.9 455.4,98.8 455.9,101.5 456.4,100.1 456.9,102.2 457.4,99.7 457.9,100.1 458.4,101.0 458.9,102.2 459.4,101.7 459.9,99.6 460.4,101.6 460.9,101.6 461.4,101.2 461.9,101.1 462.4,106.6 462.9,101.7 463.4,101.3 463.9,103.4 464.4,102.8 464.9,102.7 465.4,104.0 465.9,103.7 466.4,106.1 466.9,104.5 467.4,103.8 467.9,105.3 468.4,103.1 468.9,103.0 469.4,104.0 469.9,102.4 470.4,101.5 470.9,104.1 471.4,105.5 471.9,101.6 472.4,104.7 472.9,103.4 473.4,107.2 473.9,103.8 474.4,103.1 474.9,103.0 475.4,104.0 475.9,104.4 476.4,103.7 476.9,102.1 477.4,102.9 477.9,105.0 478.4,102.7 478.9,104.9 479.4,106.1 479.9,106.7 480.4,107.6 480.9,103.3 481.4,106.4 481.9,107.1 482.4,108.4 482.9,106.0 483.4,106.2 483.9,110.4 484.4,103.8 484.9,108.1 485.4,107.4 485.9,105.0 486.4,106.8 486.9,105.8 487.4,103.1 487.9,105.0 488.4,106.4 488.9,106.1 489.4,107.6 489.9,105.1 490.4,109.0 490.9,107.7 491.4,107.2 491.9,104.7 492.4,107.5 492.9,106.0 493.4,107.2 493.9,107.1 494.4,108.4 494.9,107.0 495.4,104.4 495.9,105.1 496.4,109.7 496.9,106.7 497.4,108.6 497.9,110.5 498.4,106.1 498.9,106.0 499.4,103.6 499.9,104.4 500.4,110.1 500.9,104.7 501.4,105.1 501.9,109.9 502.4,109.0 502.9,101.9 503.4,111.9 503.9,105.4 504.4,105.5 504.9,108.2 505.4,108.5 505.9,107.8 506.4,108.6 506.9,106.8 507.4,107.2 507.9,105.9 508.4,107.0 508.9,108.3 509.4,107.1" fill="none" stroke="#36517c" stroke-width="1.0" stroke-linejoin="miter" stroke-miterlimit="2"/>
<polyline points="402.9,53.4 403.4,52.1 403.9,50.6 404.4,49.6 404.9,49.4 405.4,49.8 405.9,50.5 406.4,51.0 406.9,51.3 407.4,51.6 407.9,52.3 408.4,52.9 408.9,53.6 409.4,54.3 409.9,54.9 410.4,55.9 410.9,56.4 411.4,57.7 411.9,58.7 412.4,59.0 412.9,60.2 413.4,60.8 413.9,62.1 414.4,63.0 414.9,63.7 415.4,64.9 415.9,65.4 416.4,66.3 416.9,67.2 417.4,68.2 417.9,69.1 418.4,70.1 418.9,70.8 419.4,72.1 419.9,73.1 420.4,73.6 420.9,74.2 421.4,75.8 421.9,76.9 422.4,77.5 422.9,78.1 423.4,79.5 423.9,80.7 424.4,80.3 424.9,81.7 425.4,82.0 425.9,82.3 426.4,83.3 426.9,83.1 427.4,84.1 427.9,84.9 428.4,85.0 428.9,85.1 429.4,85.2 429.9,85.8 430.4,86.0 430.9,87.6 431.4,87.4 431.9,87.5 432.4,87.7 432.9,88.2 433.4,88.8 433.9,88.8 434.4,90.3 434.9,89.7 435.4,90.1 435.9,90.8 436.4,91.5 436.9,91.8 437.4,91.5 437.9,92.1 438.4,92.3 438.9,92.8 439.4,92.9 439.9,92.8 440.4,92.9 440.9,93.7 441.4,93.5 441.9,94.6 442.4,94.4 442.9,94.2 443.4,94.7 443.9,94.8 444.4,95.1 444.9,95.7 445.4,95.0 445.9,95.0 446.4,96.0 446.9,96.0 447.4,96.3 447.9,96.6 448.4,96.6 448.9,97.2 449.4,96.7 449.9,97.3 450.4,97.2 450.9,97.3 451.4,98.1 451.9,98.3 452.4,97.6 452.9,98.1 453.4,98.8 453.9,99.3 454.4,98.9 454.9,99.2 455.4,99.0 455.9,100.6 456.4,100.1 456.9,100.4 457.4,100.5 457.9,100.8 458.4,100.9 458.9,100.7 459.4,101.3 459.9,101.2 460.4,101.9 460.9,101.3 461.4,101.5 461.9,102.1 462.4,102.6 462.9,102.3 463.4,102.1 463.9,102.5 464.4,102.5 464.9,103.5 465.4,103.3 465.9,103.6 466.4,103.3 466.9,103.1 467.4,103.8 467.9,104.1 468.4,103.8 468.9,103.7 469.4,104.2 469.9,103.7 470.4,104.2 470.9,103.7 471.4,103.7 471.9,104.4 472.4,104.4 472.9,105.1 473.4,104.3 473.9,104.5 474.4,104.1 474.9,103.9 475.4,104.0 475.9,104.9 476.4,104.3 476.9,105.3 477.4,105.5 477.9,104.9 478.4,105.7 478.9,105.2 479.4,105.6 479.9,105.2 480.4,105.7 480.9,105.0 481.4,105.7 481.9,105.3 482.4,105.5 482.9,105.8 483.4,105.7 483.9,105.7 484.4,106.1 484.9,106.1 485.4,105.3 485.9,106.2 486.4,106.2 486.9,105.7 487.4,106.2 487.9,105.6 488.4,106.8 488.9,106.1 489.4,106.2 489.9,106.8 490.4,106.3 490.9,106.7 491.4,106.1 491.9,106.3 492.4,106.0 492.9,106.6 493.4,107.1 493.9,106.8 494.4,107.2 494.9,106.4 495.4,106.5 495.9,106.7 496.4,107.2 496.9,107.2 497.4,107.1 497.9,107.4 498.4,107.1 498.9,107.2 499.4,107.7 499.9,107.0 500.4,107.3 500.9,108.0 501.4,107.3 501.9,107.6 502.4,107.1 502.9,108.2 503.4,106.4 503.9,106.9 504.4,107.0 504.9,108.1 505.4,107.6 505.9,107.3 506.4,106.9 506.9,107.6 507.4,107.5 507.9,107.2 508.4,106.9 508.9,107.0 509.4,107.6" fill="none" stroke="#36517c" stroke-width="2.0" stroke-linejoin="round"/>
<polyline points="402.9,51.6 403.4,54.6 403.9,47.5 404.4,46.2 404.9,48.6 405.4,46.8 405.9,50.1 406.4,50.8 406.9,47.5 407.4,50.4 407.9,49.2 408.4,49.6 408.9,49.8 409.4,47.2 409.9,51.2 410.4,51.4 410.9,53.2 411.4,50.0 411.9,53.7 412.4,54.2 412.9,56.0 413.4,55.1 413.9,56.1 414.4,60.9 414.9,56.3 415.4,55.1 415.9,56.6 416.4,58.7 416.9,58.6 417.4,58.3 417.9,60.9 418.4,58.9 418.9,63.8 419.4,64.8 419.9,65.4 420.4,67.8 420.9,67.5 421.4,66.6 421.9,68.1 422.4,69.1 422.9,69.3 423.4,71.2 423.9,72.1 424.4,71.1 424.9,73.3 425.4,73.2 425.9,76.9 426.4,76.7 426.9,72.3 427.4,78.1 427.9,75.0 428.4,75.7 428.9,75.3 429.4,77.2 429.9,79.9 430.4,79.3 430.9,79.4 431.4,78.7 431.9,81.8 432.4,83.5 432.9,86.3 433.4,81.6 433.9,83.8 434.4,84.6 434.9,83.4 435.4,84.7 435.9,84.2 436.4,78.8 436.9,88.6 437.4,85.2 437.9,85.9 438.4,85.9 438.9,84.6 439.4,86.8 439.9,87.4 440.4,85.4 440.9,86.5 441.4,88.1 441.9,86.9 442.4,88.1 442.9,88.9 443.4,87.2 443.9,89.1 444.4,89.2 444.9,87.4 445.4,90.2 445.9,91.0 446.4,88.3 446.9,90.4 447.4,89.2 447.9,95.4 448.4,89.0 448.9,87.9 449.4,88.0 449.9,96.1 450.4,91.9 450.9,92.6 451.4,96.9 451.9,96.2 452.4,93.0 452.9,93.4 453.4,91.4 453.9,93.9 454.4,96.4 454.9,94.4 455.4,96.5 455.9,92.6 456.4,93.9 456.9,97.6 457.4,99.8 457.9,92.3 458.4,92.8 458.9,98.8 459.4,95.6 459.9,95.1 460.4,98.5 460.9,91.8 461.4,95.3 461.9,95.7 462.4,94.3 462.9,90.8 463.4,99.2 463.9,100.3 464.4,100.1 464.9,97.1 465.4,96.3 465.9,97.3 466.4,94.6 466.9,95.7 467.4,95.3 467.9,97.4 468.4,95.4 468.9,95.7 469.4,100.1 469.9,93.1 470.4,97.5 470.9,99.5 471.4,96.9 471.9,98.2 472.4,99.2 472.9,99.7 473.4,98.0 473.9,101.8 474.4,98.8 474.9,98.4 475.4,95.8 475.9,99.1 476.4,98.6 476.9,99.8 477.4,93.3 477.9,100.0 478.4,99.8 478.9,99.5 479.4,97.6 479.9,99.0 480.4,98.8 480.9,100.1 481.4,94.2 481.9,99.8 482.4,101.3 482.9,98.9 483.4,98.9 483.9,105.3 484.4,105.6 484.9,100.5 485.4,102.1 485.9,99.4 486.4,102.4 486.9,99.5 487.4,96.4 487.9,101.9 488.4,103.0 488.9,100.0 489.4,100.1 489.9,103.8 490.4,103.3 490.9,101.5 491.4,105.4 491.9,103.6 492.4,101.2 492.9,98.1 493.4,97.8 493.9,102.1 494.4,101.2 494.9,98.2 495.4,105.0 495.9,103.6 496.4,104.6 496.9,99.5 497.4,102.2 497.9,101.3 498.4,100.7 498.9,106.0 499.4,101.5 499.9,98.0 500.4,105.3 500.9,98.4 501.4,104.1 501.9,98.1 502.4,100.6 502.9,99.9 503.4,102.8 503.9,101.4 504.4,102.8 504.9,99.5 505.4,101.1 505.9,102.1 506.4,98.8 506.9,104.8 507.4,104.1 507.9,109.8 508.4,106.6 508.9,101.3 509.4,105.3" fill="none" stroke="#9c2236" stroke-width="1.1" stroke-linejoin="miter" stroke-miterlimit="2"/>
<polyline points="402.9,53.0 403.4,50.8 403.9,48.8 404.4,46.9 404.9,47.3 405.4,48.1 405.9,48.7 406.4,49.1 406.9,49.7 407.4,50.1 407.9,49.9 408.4,50.1 408.9,50.5 409.4,50.9 409.9,51.4 410.4,51.8 410.9,52.4 411.4,53.0 411.9,53.7 412.4,54.0 412.9,54.9 413.4,55.8 413.9,56.3 414.4,56.6 414.9,58.0 415.4,58.9 415.9,58.6 416.4,60.3 416.9,60.9 417.4,61.2 417.9,61.5 418.4,63.3 418.9,64.2 419.4,65.0 419.9,65.8 420.4,66.7 420.9,67.1 421.4,68.3 421.9,69.2 422.4,69.6 422.9,69.9 423.4,72.0 423.9,72.0 424.4,72.2 424.9,73.9 425.4,74.8 425.9,75.1 426.4,75.7 426.9,76.7 427.4,76.3 427.9,77.4 428.4,77.6 428.9,78.8 429.4,78.9 429.9,80.6 430.4,80.2 430.9,80.0 431.4,80.3 431.9,82.3 432.4,82.7 432.9,82.5 433.4,82.7 433.9,83.5 434.4,83.3 434.9,82.1 435.4,83.5 435.9,84.4 436.4,85.0 436.9,85.3 437.4,85.8 437.9,85.2 438.4,85.7 438.9,86.1 439.4,86.9 439.9,86.0 440.4,86.6 440.9,87.8 441.4,87.4 441.9,88.1 442.4,87.3 442.9,88.7 443.4,89.4 443.9,89.4 444.4,89.5 444.9,89.6 445.4,89.9 445.9,90.2 446.4,91.5 446.9,91.3 447.4,90.7 447.9,91.1 448.4,91.2 448.9,90.9 449.4,91.9 449.9,91.8 450.4,92.8 450.9,92.4 451.4,92.9 451.9,93.5 452.4,93.0 452.9,94.0 453.4,93.2 453.9,94.3 454.4,93.7 454.9,93.7 455.4,94.8 455.9,94.3 456.4,94.0 456.9,94.4 457.4,94.7 457.9,95.6 458.4,94.7 458.9,95.1 459.4,96.1 459.9,97.0 460.4,95.7 460.9,96.6 461.4,97.3 461.9,96.9 462.4,97.7 462.9,97.5 463.4,96.5 463.9,98.2 464.4,97.7 464.9,99.2 465.4,97.8 465.9,98.8 466.4,98.3 466.9,98.0 467.4,97.9 467.9,98.4 468.4,98.7 468.9,98.1 469.4,98.4 469.9,98.5 470.4,98.4 470.9,99.8 471.4,99.5 471.9,97.7 472.4,99.4 472.9,99.1 473.4,99.8 473.9,98.9 474.4,99.0 474.9,99.2 475.4,98.6 475.9,99.4 476.4,100.5 476.9,100.3 477.4,100.5 477.9,99.7 478.4,99.4 478.9,98.8 479.4,100.1 479.9,101.4 480.4,101.1 480.9,100.9 481.4,101.2 481.9,100.9 482.4,100.6 482.9,101.1 483.4,99.8 483.9,99.8 484.4,100.1 484.9,99.7 485.4,101.1 485.9,101.1 486.4,101.1 486.9,100.8 487.4,101.1 487.9,100.5 488.4,102.5 488.9,102.1 489.4,101.8 489.9,102.4 490.4,101.3 490.9,102.0 491.4,101.8 491.9,101.7 492.4,101.9 492.9,102.1 493.4,100.9 493.9,102.9 494.4,101.2 494.9,102.1 495.4,101.7 495.9,101.7 496.4,101.6 496.9,101.7 497.4,102.0 497.9,102.8 498.4,102.8 498.9,102.1 499.4,104.3 499.9,102.3 500.4,102.8 500.9,102.7 501.4,103.0 501.9,102.0 502.4,102.5 502.9,102.0 503.4,103.0 503.9,103.0 504.4,103.7 504.9,103.2 505.4,104.0 505.9,103.4 506.4,105.1 506.9,103.6 507.4,104.2 507.9,103.2 508.4,104.1 508.9,105.6 509.4,102.8" fill="none" stroke="#9c2236" stroke-width="2.3" stroke-linejoin="round"/>
<polyline points="61.2,189.8 61.7,190.0 62.2,191.7 62.7,193.0 63.2,193.3 63.7,192.7 64.2,191.0 64.7,190.1 65.2,189.5 65.7,189.3 66.2,189.7 66.7,190.1 67.2,189.5 67.7,189.6 68.2,189.9 68.7,189.4 69.2,189.6 69.7,188.7 70.2,188.8 70.7,189.1 71.2,188.8 71.7,188.3 72.2,188.4 72.7,187.9 73.2,187.6 73.7,187.0 74.2,186.9 74.7,186.7 75.2,186.0 75.7,185.1 76.2,184.0 76.7,186.0 77.2,183.9 77.7,184.1 78.2,184.0 78.7,183.8 79.2,183.7 79.7,183.3 80.2,183.0 80.7,182.6 81.2,181.5 81.7,181.2 82.2,180.6 82.7,180.5 83.2,179.8 83.7,179.2 84.2,179.8 84.7,178.6 85.2,178.1 85.7,178.2 86.2,177.1 86.7,176.9 87.2,176.4 87.7,175.6 88.2,175.0 88.7,175.5 89.2,174.9 89.7,174.6 90.2,174.7 90.7,173.8 91.2,174.4 91.7,172.9 92.2,172.2 92.7,172.8 93.2,172.7 93.7,172.9 94.2,171.8 94.7,171.6 95.2,171.4 95.7,172.1 96.2,170.4 96.7,170.9 97.2,169.5 97.7,170.0 98.2,170.0 98.7,170.0 99.2,169.5 99.7,169.7 100.2,169.7 100.7,169.6 101.2,169.0 101.7,168.9 102.2,168.9 102.7,169.1 103.2,168.7 103.7,168.9 104.2,168.5 104.7,167.7 105.2,168.5 105.7,167.8 106.2,168.1 106.7,167.8 107.2,168.0 107.7,167.6 108.2,167.6 108.7,166.9 109.2,167.9 109.7,167.4 110.2,167.2 110.7,167.7 111.2,167.4 111.7,167.2 112.2,167.3 112.7,167.1 113.2,166.7 113.7,166.6 114.2,167.3 114.7,167.3 115.2,167.1 115.7,167.0 116.2,166.5 116.7,167.2 117.2,166.9 117.7,167.1 118.2,167.0 118.7,166.5 119.2,166.9 119.7,166.3 120.2,165.8 120.7,166.8 121.2,166.5 121.7,167.3 122.2,166.2 122.7,165.5 123.2,166.5 123.7,166.7 124.2,166.2 124.7,165.8 125.2,166.5 125.7,167.3 126.2,164.8 126.7,166.2 127.2,166.3 127.7,167.1 128.2,166.4 128.7,166.7 129.2,167.1 129.7,167.0 130.2,166.3 130.7,166.6 131.2,167.2 131.7,166.5 132.2,167.0 132.7,166.8 133.2,166.3 133.7,166.8 134.2,166.5 134.7,166.8 135.2,166.5 135.7,167.0 136.2,166.0 136.7,167.1 137.2,166.4 137.7,166.7 138.2,167.2 138.7,167.2 139.2,167.2 139.7,167.1 140.2,166.6 140.7,167.0 141.2,167.1 141.7,166.9 142.2,167.1 142.7,166.7 143.2,167.2 143.7,166.8 144.2,166.6 144.7,166.4 145.2,167.3 145.7,166.5 146.2,166.6 146.7,166.4 147.2,167.7 147.7,167.6 148.2,166.7 148.7,166.4 149.2,166.7 149.7,166.8 150.2,166.9 150.7,167.2 151.2,166.7 151.7,167.0 152.2,167.2 152.7,167.2 153.2,167.2 153.7,166.9 154.2,167.1 154.7,167.4 155.2,166.7 155.7,167.5 156.2,167.0 156.7,167.5 157.2,166.6 157.7,167.4 158.2,167.1 158.7,167.7 159.2,167.3 159.7,167.0 160.2,167.6 160.7,167.1 161.2,167.0 161.7,167.0 162.2,167.1 162.7,167.1 163.2,167.2 163.7,167.8 164.2,167.8 164.7,167.9 165.2,168.2 165.7,166.4 166.2,167.5 166.7,167.1" fill="none" stroke="#36517c" stroke-width="2.0" stroke-linejoin="round" opacity="1"/>
<polyline points="61.2,190.0 61.7,190.7 62.2,190.9 62.7,192.2 63.2,192.7 63.7,191.8 64.2,191.1 64.7,189.9 65.2,189.4 65.7,189.3 66.2,189.5 66.7,189.7 67.2,189.0 67.7,189.6 68.2,189.3 68.7,189.3 69.2,188.7 69.7,188.9 70.2,189.2 70.7,188.3 71.2,187.8 71.7,187.7 72.2,187.6 72.7,188.5 73.2,187.9 73.7,187.8 74.2,187.0 74.7,187.1 75.2,186.3 75.7,186.3 76.2,185.7 76.7,185.3 77.2,185.2 77.7,184.6 78.2,184.8 78.7,185.6 79.2,183.9 79.7,183.3 80.2,183.4 80.7,182.4 81.2,182.5 81.7,181.8 82.2,181.2 82.7,181.0 83.2,180.5 83.7,180.3 84.2,179.9 84.7,179.7 85.2,179.4 85.7,178.8 86.2,178.4 86.7,178.1 87.2,177.5 87.7,177.5 88.2,177.2 88.7,176.6 89.2,176.9 89.7,176.1 90.2,175.4 90.7,175.0 91.2,174.7 91.7,174.3 92.2,174.5 92.7,173.6 93.2,173.5 93.7,173.0 94.2,173.2 94.7,172.2 95.2,172.2 95.7,170.7 96.2,171.9 96.7,171.7 97.2,171.3 97.7,171.4 98.2,171.0 98.7,172.2 99.2,170.0 99.7,170.5 100.2,169.8 100.7,169.7 101.2,170.3 101.7,170.1 102.2,168.8 102.7,169.2 103.2,169.1 103.7,168.3 104.2,168.8 104.7,168.8 105.2,168.6 105.7,167.8 106.2,168.6 106.7,168.2 107.2,168.0 107.7,167.7 108.2,168.1 108.7,168.0 109.2,167.5 109.7,167.6 110.2,167.8 110.7,166.9 111.2,167.4 111.7,166.7 112.2,167.0 112.7,167.3 113.2,167.1 113.7,167.0 114.2,167.0 114.7,167.3 115.2,167.2 115.7,166.7 116.2,167.7 116.7,166.7 117.2,167.5 117.7,166.5 118.2,166.6 118.7,166.6 119.2,166.5 119.7,166.7 120.2,166.7 120.7,166.1 121.2,166.4 121.7,166.2 122.2,167.0 122.7,167.3 123.2,167.0 123.7,166.7 124.2,166.9 124.7,166.7 125.2,167.1 125.7,166.8 126.2,166.6 126.7,166.3 127.2,166.5 127.7,166.8 128.2,166.9 128.7,166.6 129.2,167.1 129.7,166.7 130.2,167.3 130.7,167.2 131.2,166.6 131.7,166.3 132.2,166.7 132.7,167.6 133.2,166.9 133.7,167.3 134.2,166.5 134.7,166.7 135.2,165.5 135.7,167.2 136.2,168.4 136.7,167.0 137.2,167.3 137.7,167.0 138.2,166.8 138.7,166.9 139.2,166.7 139.7,167.1 140.2,167.2 140.7,166.0 141.2,167.3 141.7,166.9 142.2,167.1 142.7,167.2 143.2,166.3 143.7,166.6 144.2,166.9 144.7,166.8 145.2,167.1 145.7,166.9 146.2,166.5 146.7,167.2 147.2,167.4 147.7,167.3 148.2,166.9 148.7,167.0 149.2,167.3 149.7,167.3 150.2,167.4 150.7,167.1 151.2,166.7 151.7,167.0 152.2,167.4 152.7,167.4 153.2,167.9 153.7,167.3 154.2,167.3 154.7,167.2 155.2,167.1 155.7,167.5 156.2,167.4 156.7,167.3 157.2,167.0 157.7,168.1 158.2,167.2 158.7,167.8 159.2,167.7 159.7,167.1 160.2,167.8 160.7,167.3 161.2,167.5 161.7,167.9 162.2,167.2 162.7,167.6 163.2,167.2 163.7,167.0 164.2,167.9 164.7,167.6 165.2,167.4 165.7,167.2 166.2,167.5 166.7,168.1" fill="none" stroke="#9c2236" stroke-width="2.0" stroke-linejoin="round" opacity="1"/>
<polyline points="173.8,191.3 174.3,192.6 174.8,193.0 175.3,192.6 175.8,193.3 176.3,192.9 176.8,192.3 177.3,192.1 177.8,191.8 178.3,191.3 178.8,191.2 179.3,191.3 179.8,191.6 180.3,191.5 180.8,190.9 181.3,191.0 181.8,191.5 182.3,191.7 182.8,191.2 183.3,191.0 183.8,191.5 184.3,191.1 184.8,191.4 185.3,191.6 185.8,191.3 186.3,191.1 186.8,191.3 187.3,190.9 187.8,191.0 188.3,190.9 188.8,191.0 189.3,190.9 189.8,191.0 190.3,190.9 190.8,192.4 191.3,190.9 191.8,190.9 192.3,191.2 192.8,190.2 193.3,191.0 193.8,189.6 194.3,190.0 194.8,190.2 195.3,190.1 195.8,190.2 196.3,189.5 196.8,189.7 197.3,189.5 197.8,188.8 198.3,188.7 198.8,189.0 199.3,188.8 199.8,188.7 200.3,188.2 200.8,187.8 201.3,187.4 201.8,187.4 202.3,186.3 202.8,185.5 203.3,186.4 203.8,184.5 204.3,184.8 204.8,183.6 205.3,183.2 205.8,183.3 206.3,181.8 206.8,181.2 207.3,182.1 207.8,180.0 208.3,179.8 208.8,179.6 209.3,179.3 209.8,179.0 210.3,178.6 210.8,178.6 211.3,178.1 211.8,177.7 212.3,177.0 212.8,176.7 213.3,176.1 213.8,176.6 214.3,175.6 214.8,176.2 215.3,176.2 215.8,175.1 216.3,175.0 216.8,174.9 217.3,175.1 217.8,174.4 218.3,174.4 218.8,174.2 219.3,174.1 219.8,174.4 220.3,173.6 220.8,173.8 221.3,173.7 221.8,173.7 222.3,173.0 222.8,173.6 223.3,173.3 223.8,173.3 224.3,172.9 224.8,172.3 225.3,172.5 225.8,172.8 226.3,172.5 226.8,172.3 227.3,172.8 227.8,172.8 228.3,172.0 228.8,172.5 229.3,171.3 229.8,171.1 230.3,171.9 230.8,171.5 231.3,171.6 231.8,171.5 232.3,171.2 232.8,171.4 233.3,171.1 233.8,170.5 234.3,170.9 234.8,170.8 235.3,171.2 235.8,170.2 236.3,170.4 236.8,170.2 237.3,170.2 237.8,170.6 238.3,170.2 238.8,169.8 239.3,169.9 239.8,170.1 240.3,169.5 240.8,169.6 241.3,170.1 241.8,169.8 242.3,169.5 242.8,169.3 243.3,169.4 243.8,168.9 244.3,169.6 244.8,169.4 245.3,169.3 245.8,168.8 246.3,169.7 246.8,169.3 247.3,169.2 247.8,168.9 248.3,169.2 248.8,169.3 249.3,168.7 249.8,168.8 250.3,168.6 250.8,168.5 251.3,169.1 251.8,168.9 252.3,168.8 252.8,168.4 253.3,168.4 253.8,168.6 254.3,168.5 254.8,168.6 255.3,168.3 255.8,168.7 256.3,169.0 256.8,168.9 257.3,168.9 257.8,168.4 258.3,168.6 258.8,168.2 259.3,168.5 259.8,168.1 260.3,168.1 260.8,168.0 261.3,168.4 261.8,168.2 262.3,168.1 262.8,167.7 263.3,168.1 263.8,167.6 264.3,167.5 264.8,168.0 265.3,168.0 265.8,167.9 266.3,167.5 266.8,167.5 267.3,167.9 267.8,168.4 268.3,167.6 268.8,167.7 269.3,167.9 269.8,167.4 270.3,168.8 270.8,167.0 271.3,167.8 271.8,167.7 272.3,168.3 272.8,167.8 273.3,167.9 273.8,168.3 274.3,168.3 274.8,167.3 275.3,167.7 275.8,168.1 276.3,167.3 276.8,167.5 277.3,167.4 277.8,167.3 278.3,167.4 278.8,167.8 279.3,168.1" fill="none" stroke="#36517c" stroke-width="2.0" stroke-linejoin="round" opacity="1"/>
<polyline points="173.8,191.0 174.3,192.2 174.8,193.0 175.3,192.7 175.8,193.3 176.3,192.2 176.8,192.1 177.3,191.5 177.8,190.9 178.3,191.8 178.8,190.8 179.3,191.6 179.8,191.2 180.3,190.5 180.8,191.2 181.3,190.8 181.8,191.1 182.3,190.5 182.8,190.4 183.3,191.1 183.8,190.8 184.3,190.7 184.8,190.7 185.3,190.6 185.8,190.0 186.3,189.6 186.8,189.7 187.3,189.5 187.8,189.3 188.3,189.6 188.8,189.5 189.3,189.5 189.8,189.5 190.3,189.2 190.8,189.0 191.3,189.0 191.8,188.5 192.3,188.4 192.8,188.4 193.3,187.9 193.8,187.8 194.3,187.7 194.8,187.9 195.3,187.4 195.8,186.9 196.3,186.7 196.8,186.6 197.3,187.1 197.8,184.6 198.3,186.2 198.8,186.0 199.3,186.0 199.8,185.2 200.3,186.0 200.8,185.5 201.3,185.0 201.8,184.9 202.3,184.5 202.8,184.5 203.3,184.3 203.8,184.4 204.3,184.0 204.8,183.7 205.3,183.7 205.8,183.5 206.3,183.2 206.8,182.4 207.3,183.8 207.8,182.1 208.3,181.9 208.8,182.0 209.3,181.9 209.8,182.0 210.3,180.8 210.8,181.6 211.3,181.4 211.8,180.5 212.3,180.4 212.8,180.0 213.3,179.8 213.8,179.3 214.3,179.0 214.8,179.2 215.3,179.1 215.8,179.3 216.3,178.3 216.8,177.7 217.3,178.2 217.8,177.8 218.3,177.8 218.8,177.4 219.3,176.9 219.8,176.8 220.3,177.1 220.8,176.7 221.3,175.3 221.8,176.5 222.3,175.6 222.8,175.7 223.3,175.7 223.8,175.1 224.3,175.0 224.8,175.1 225.3,174.9 225.8,174.7 226.3,174.5 226.8,174.1 227.3,174.1 227.8,175.0 228.3,173.8 228.8,174.3 229.3,173.5 229.8,173.9 230.3,173.8 230.8,173.4 231.3,172.9 231.8,172.6 232.3,173.1 232.8,172.3 233.3,172.2 233.8,172.9 234.3,172.8 234.8,172.2 235.3,172.0 235.8,171.8 236.3,172.0 236.8,171.6 237.3,171.2 237.8,171.3 238.3,171.5 238.8,170.8 239.3,170.9 239.8,171.2 240.3,171.6 240.8,171.0 241.3,170.9 241.8,171.4 242.3,170.5 242.8,170.5 243.3,170.9 243.8,171.0 244.3,170.7 244.8,169.7 245.3,170.7 245.8,170.6 246.3,170.4 246.8,170.5 247.3,170.7 247.8,170.3 248.3,169.9 248.8,169.6 249.3,170.2 249.8,170.7 250.3,169.9 250.8,169.7 251.3,170.1 251.8,170.2 252.3,170.1 252.8,169.6 253.3,170.1 253.8,169.9 254.3,169.1 254.8,170.0 255.3,169.2 255.8,169.4 256.3,170.0 256.8,169.9 257.3,169.5 257.8,169.4 258.3,169.7 258.8,169.1 259.3,169.7 259.8,169.5 260.3,169.8 260.8,169.5 261.3,169.2 261.8,169.5 262.3,169.4 262.8,169.0 263.3,169.1 263.8,169.1 264.3,169.4 264.8,169.6 265.3,169.4 265.8,169.0 266.3,169.2 266.8,169.5 267.3,169.7 267.8,169.0 268.3,169.4 268.8,169.2 269.3,168.6 269.8,168.9 270.3,169.1 270.8,169.1 271.3,169.1 271.8,169.1 272.3,169.3 272.8,168.9 273.3,168.7 273.8,169.4 274.3,169.0 274.8,170.6 275.3,168.9 275.8,169.6 276.3,168.8 276.8,168.2 277.3,169.4 277.8,169.7 278.3,168.9 278.8,169.6 279.3,169.6" fill="none" stroke="#9c2236" stroke-width="2.0" stroke-linejoin="round" opacity="1"/>
<polyline points="289.0,188.4 289.5,191.8 290.0,192.9 290.5,193.8 291.0,194.0 291.5,193.4 292.0,193.1 292.5,192.5 293.0,192.4 293.5,191.3 294.0,191.3 294.5,191.0 295.0,191.5 295.5,191.1 296.0,191.4 296.5,191.1 297.0,191.7 297.5,191.6 298.0,190.9 298.5,190.5 299.0,190.0 299.5,190.7 300.0,190.4 300.5,189.5 301.0,189.7 301.5,189.7 302.0,188.9 302.5,189.2 303.0,189.6 303.5,188.4 304.0,188.9 304.5,189.2 305.0,188.2 305.5,188.0 306.0,188.1 306.5,188.0 307.0,187.7 307.5,186.8 308.0,186.9 308.5,187.0 309.0,185.3 309.5,186.8 310.0,186.0 310.5,185.7 311.0,186.1 311.5,185.1 312.0,184.6 312.5,184.8 313.0,182.8 313.5,186.6 314.0,184.7 314.5,184.4 315.0,184.3 315.5,184.1 316.0,184.7 316.5,184.9 317.0,184.1 317.5,184.3 318.0,184.2 318.5,183.9 319.0,183.9 319.5,183.8 320.0,183.3 320.5,183.7 321.0,184.2 321.5,184.3 322.0,183.9 322.5,183.9 323.0,183.6 323.5,184.8 324.0,183.8 324.5,183.9 325.0,184.0 325.5,184.4 326.0,183.9 326.5,184.4 327.0,184.0 327.5,184.5 328.0,184.2 328.5,184.2 329.0,184.7 329.5,184.0 330.0,184.2 330.5,184.8 331.0,184.8 331.5,184.6 332.0,183.8 332.5,184.9 333.0,184.8 333.5,184.5 334.0,184.0 334.5,185.0 335.0,185.3 335.5,184.9 336.0,185.2 336.5,184.5 337.0,184.8 337.5,183.6 338.0,184.4 338.5,184.7 339.0,184.5 339.5,184.6 340.0,184.6 340.5,184.7 341.0,184.8 341.5,184.9 342.0,184.5 342.5,185.0 343.0,184.3 343.5,185.0 344.0,185.0 344.5,184.2 345.0,184.9 345.5,185.4 346.0,185.2 346.5,184.9 347.0,184.9 347.5,185.2 348.0,185.2 348.5,185.4 349.0,185.2 349.5,185.5 350.0,185.3 350.5,185.0 351.0,184.9 351.5,185.1 352.0,185.5 352.5,186.1 353.0,185.7 353.5,184.9 354.0,185.3 354.5,185.1 355.0,185.6 355.5,184.8 356.0,185.5 356.5,185.1 357.0,185.2 357.5,185.3 358.0,185.9 358.5,185.4 359.0,185.8 359.5,186.0 360.0,185.4 360.5,185.5 361.0,184.9 361.5,185.5 362.0,185.9 362.5,185.4 363.0,185.8 363.5,186.0 364.0,184.4 364.5,185.5 365.0,185.8 365.5,185.5 366.0,185.5 366.5,186.5 367.0,185.5 367.5,185.4 368.0,185.0 368.5,185.8 369.0,185.9 369.5,185.4 370.0,185.3 370.5,185.3 371.0,185.9 371.5,186.0 372.0,185.4 372.5,185.4 373.0,185.6 373.5,185.3 374.0,185.4 374.5,185.9 375.0,185.8 375.5,185.7 376.0,186.0 376.5,185.2 377.0,185.9 377.5,185.5 378.0,185.4 378.5,185.8 379.0,185.5 379.5,185.4 380.0,185.3 380.5,185.2 381.0,185.3 381.5,185.4 382.0,185.7 382.5,185.4 383.0,185.6 383.5,185.3 384.0,185.6 384.5,185.4 385.0,185.9 385.5,185.5 386.0,184.8 386.5,185.3 387.0,185.2 387.5,185.7 388.0,185.4 388.5,185.6 389.0,185.6 389.5,185.1 390.0,185.2 390.5,185.3 391.0,184.9 391.5,186.5 392.0,185.4 392.5,184.8 393.0,184.7 393.5,185.3 394.0,185.1" fill="none" stroke="#36517c" stroke-width="2.0" stroke-linejoin="round" opacity="1"/>
<polyline points="289.0,190.7 289.5,191.1 290.0,192.0 290.5,192.5 291.0,191.8 291.5,192.1 292.0,191.1 292.5,191.1 293.0,190.6 293.5,190.8 294.0,190.2 294.5,190.1 295.0,189.5 295.5,189.9 296.0,189.5 296.5,189.5 297.0,189.4 297.5,189.2 298.0,188.8 298.5,188.1 299.0,188.2 299.5,188.6 300.0,188.5 300.5,188.5 301.0,187.8 301.5,187.5 302.0,187.9 302.5,187.8 303.0,187.4 303.5,187.2 304.0,186.7 304.5,186.9 305.0,187.2 305.5,186.3 306.0,186.3 306.5,186.3 307.0,186.1 307.5,185.5 308.0,185.7 308.5,185.6 309.0,185.5 309.5,185.3 310.0,185.3 310.5,184.9 311.0,185.6 311.5,184.9 312.0,185.3 312.5,185.2 313.0,184.8 313.5,184.4 314.0,184.0 314.5,184.2 315.0,184.5 315.5,184.6 316.0,184.3 316.5,184.4 317.0,185.3 317.5,184.5 318.0,184.1 318.5,184.6 319.0,184.1 319.5,183.7 320.0,184.4 320.5,184.2 321.0,184.4 321.5,184.9 322.0,184.4 322.5,184.2 323.0,184.9 323.5,183.8 324.0,184.1 324.5,184.9 325.0,185.0 325.5,184.4 326.0,184.3 326.5,184.6 327.0,184.7 327.5,184.6 328.0,184.5 328.5,184.2 329.0,184.4 329.5,184.6 330.0,184.6 330.5,184.5 331.0,184.7 331.5,184.2 332.0,185.0 332.5,185.2 333.0,184.6 333.5,184.4 334.0,184.9 334.5,185.0 335.0,184.8 335.5,185.1 336.0,184.7 336.5,184.5 337.0,185.3 337.5,184.7 338.0,184.8 338.5,184.2 339.0,184.8 339.5,184.7 340.0,184.9 340.5,185.1 341.0,185.0 341.5,184.6 342.0,185.3 342.5,185.1 343.0,185.1 343.5,184.9 344.0,185.0 344.5,184.6 345.0,184.5 345.5,184.8 346.0,184.8 346.5,185.1 347.0,184.0 347.5,184.9 348.0,184.8 348.5,185.4 349.0,184.9 349.5,184.9 350.0,185.1 350.5,185.3 351.0,184.5 351.5,184.8 352.0,185.4 352.5,185.3 353.0,185.2 353.5,185.7 354.0,184.8 354.5,185.3 355.0,185.1 355.5,185.4 356.0,185.1 356.5,185.4 357.0,186.1 357.5,185.6 358.0,185.5 358.5,185.9 359.0,185.6 359.5,186.1 360.0,185.2 360.5,185.1 361.0,184.9 361.5,185.2 362.0,184.9 362.5,186.0 363.0,185.5 363.5,185.7 364.0,185.6 364.5,185.5 365.0,185.4 365.5,185.0 366.0,185.9 366.5,185.4 367.0,186.0 367.5,185.7 368.0,185.1 368.5,185.3 369.0,185.3 369.5,185.3 370.0,185.2 370.5,186.6 371.0,185.2 371.5,184.4 372.0,186.3 372.5,185.4 373.0,185.2 373.5,185.5 374.0,185.2 374.5,185.4 375.0,185.3 375.5,185.6 376.0,184.7 376.5,185.8 377.0,185.9 377.5,185.6 378.0,185.0 378.5,185.2 379.0,185.3 379.5,185.0 380.0,185.0 380.5,185.1 381.0,185.6 381.5,184.6 382.0,185.1 382.5,185.5 383.0,184.9 383.5,185.5 384.0,184.3 384.5,184.5 385.0,184.8 385.5,185.5 386.0,184.6 386.5,183.6 387.0,184.4 387.5,184.8 388.0,184.8 388.5,184.6 389.0,185.3 389.5,184.5 390.0,185.2 390.5,184.3 391.0,184.6 391.5,184.5 392.0,184.2 392.5,184.6 393.0,184.7 393.5,184.5 394.0,184.3" fill="none" stroke="#9c2236" stroke-width="2.0" stroke-linejoin="round" opacity="1"/>
<polyline points="402.9,190.7 403.4,191.5 403.9,192.0 404.4,192.3 404.9,192.3 405.4,190.5 405.9,189.4 406.4,188.5 406.9,188.2 407.4,187.6 407.9,187.4 408.4,186.5 408.9,187.6 409.4,187.5 409.9,187.1 410.4,187.5 410.9,187.2 411.4,187.9 411.9,187.5 412.4,187.3 412.9,186.2 413.4,187.0 413.9,187.4 414.4,187.0 414.9,187.5 415.4,186.8 415.9,187.1 416.4,188.0 416.9,188.1 417.4,186.9 417.9,187.0 418.4,187.1 418.9,187.2 419.4,187.1 419.9,187.8 420.4,187.6 420.9,187.8 421.4,187.7 421.9,187.6 422.4,188.6 422.9,188.1 423.4,187.6 423.9,188.3 424.4,189.2 424.9,187.9 425.4,188.5 425.9,187.7 426.4,187.9 426.9,187.9 427.4,188.6 427.9,188.7 428.4,188.1 428.9,188.7 429.4,187.6 429.9,188.0 430.4,188.5 430.9,188.0 431.4,187.2 431.9,188.2 432.4,188.3 432.9,188.2 433.4,187.6 433.9,188.0 434.4,187.8 434.9,188.3 435.4,187.5 435.9,187.8 436.4,188.5 436.9,188.2 437.4,188.9 437.9,188.0 438.4,187.0 438.9,188.3 439.4,188.0 439.9,187.7 440.4,187.4 440.9,187.7 441.4,188.0 441.9,187.8 442.4,187.7 442.9,187.8 443.4,187.6 443.9,187.2 444.4,187.6 444.9,187.6 445.4,188.1 445.9,187.3 446.4,186.9 446.9,187.6 447.4,187.4 447.9,186.9 448.4,186.6 448.9,187.5 449.4,186.3 449.9,186.6 450.4,186.9 450.9,186.3 451.4,186.6 451.9,186.7 452.4,186.3 452.9,186.0 453.4,186.1 453.9,186.3 454.4,186.6 454.9,185.8 455.4,186.7 455.9,185.8 456.4,186.6 456.9,186.8 457.4,186.5 457.9,185.9 458.4,186.5 458.9,186.3 459.4,186.0 459.9,185.8 460.4,185.7 460.9,185.7 461.4,186.6 461.9,185.9 462.4,185.9 462.9,185.5 463.4,185.8 463.9,185.5 464.4,185.4 464.9,185.6 465.4,185.4 465.9,185.6 466.4,185.6 466.9,185.4 467.4,185.8 467.9,185.8 468.4,185.9 468.9,185.5 469.4,187.2 469.9,185.5 470.4,186.0 470.9,185.6 471.4,185.5 471.9,185.3 472.4,185.8 472.9,185.0 473.4,184.4 473.9,183.7 474.4,185.5 474.9,185.5 475.4,185.2 475.9,186.9 476.4,185.6 476.9,185.3 477.4,184.9 477.9,185.7 478.4,185.2 478.9,185.8 479.4,185.5 479.9,185.7 480.4,184.8 480.9,185.9 481.4,183.9 481.9,185.7 482.4,185.5 482.9,185.9 483.4,185.6 483.9,185.2 484.4,184.8 484.9,185.5 485.4,185.4 485.9,184.5 486.4,185.9 486.9,185.6 487.4,185.7 487.9,185.5 488.4,185.7 488.9,185.6 489.4,185.5 489.9,185.6 490.4,185.6 490.9,185.5 491.4,185.7 491.9,185.6 492.4,185.5 492.9,185.5 493.4,185.6 493.9,185.6 494.4,185.6 494.9,185.6 495.4,185.6 495.9,185.6 496.4,185.6 496.9,185.6 497.4,185.6 497.9,185.7 498.4,185.6 498.9,185.6 499.4,185.6 499.9,185.6 500.4,185.6 500.9,185.5 501.4,185.6 501.9,185.6 502.4,185.7 502.9,185.6 503.4,185.6 503.9,185.6 504.4,185.5 504.9,185.6 505.4,185.6 505.9,185.6 506.4,185.6 506.9,185.6 507.4,185.6 507.9,185.5 508.4,185.7 508.9,185.6" fill="none" stroke="#36517c" stroke-width="2.0" stroke-linejoin="round" opacity="1"/>
<polyline points="402.9,190.8 403.4,191.7 403.9,191.9 404.4,192.5 404.9,191.9 405.4,190.9 405.9,189.5 406.4,189.0 406.9,188.1 407.4,187.9 407.9,187.4 408.4,187.8 408.9,187.4 409.4,187.5 409.9,187.8 410.4,188.6 410.9,188.0 411.4,187.7 411.9,187.9 412.4,189.0 412.9,188.2 413.4,188.3 413.9,188.4 414.4,188.8 414.9,188.6 415.4,188.6 415.9,188.4 416.4,188.2 416.9,188.4 417.4,188.3 417.9,188.0 418.4,187.6 418.9,188.8 419.4,188.8 419.9,188.6 420.4,188.6 420.9,189.3 421.4,188.1 421.9,188.1 422.4,188.3 422.9,188.3 423.4,188.2 423.9,189.7 424.4,188.7 424.9,188.7 425.4,189.0 425.9,189.1 426.4,188.4 426.9,188.8 427.4,188.6 427.9,188.7 428.4,189.3 428.9,189.2 429.4,188.8 429.9,189.0 430.4,188.9 430.9,188.6 431.4,188.6 431.9,188.4 432.4,189.2 432.9,188.4 433.4,188.6 433.9,188.6 434.4,188.4 434.9,188.0 435.4,188.9 435.9,188.0 436.4,188.4 436.9,189.0 437.4,188.5 437.9,188.7 438.4,188.8 438.9,188.7 439.4,189.3 439.9,188.6 440.4,188.7 440.9,188.4 441.4,188.7 441.9,188.6 442.4,188.7 442.9,188.8 443.4,188.5 443.9,188.2 444.4,188.8 444.9,188.7 445.4,188.2 445.9,188.2 446.4,188.6 446.9,188.7 447.4,187.9 447.9,188.3 448.4,188.2 448.9,188.3 449.4,188.5 449.9,188.9 450.4,188.0 450.9,188.8 451.4,188.6 451.9,189.0 452.4,188.2 452.9,188.3 453.4,188.5 453.9,188.2 454.4,188.7 454.9,188.2 455.4,188.4 455.9,188.2 456.4,187.7 456.9,188.2 457.4,187.7 457.9,187.9 458.4,187.8 458.9,188.0 459.4,187.4 459.9,188.2 460.4,188.1 460.9,187.8 461.4,187.5 461.9,187.4 462.4,187.6 462.9,187.5 463.4,187.7 463.9,186.6 464.4,187.9 464.9,187.7 465.4,187.3 465.9,188.2 466.4,188.3 466.9,187.4 467.4,187.5 467.9,188.4 468.4,188.1 468.9,187.7 469.4,187.8 469.9,187.1 470.4,187.6 470.9,188.0 471.4,186.9 471.9,187.7 472.4,187.2 472.9,188.2 473.4,187.1 473.9,187.1 474.4,187.3 474.9,187.3 475.4,187.6 475.9,187.9 476.4,187.1 476.9,187.4 477.4,187.7 477.9,187.1 478.4,187.7 478.9,187.7 479.4,187.7 479.9,187.5 480.4,187.7 480.9,187.9 481.4,187.5 481.9,187.9 482.4,187.6 482.9,188.5 483.4,187.8 483.9,187.6 484.4,187.8 484.9,187.4 485.4,187.5 485.9,187.4 486.4,187.3 486.9,188.6 487.4,187.7 487.9,187.5 488.4,187.5 488.9,187.5 489.4,187.4 489.9,187.5 490.4,187.5 490.9,187.5 491.4,187.5 491.9,187.5 492.4,187.5 492.9,187.6 493.4,187.5 493.9,187.5 494.4,187.4 494.9,187.5 495.4,187.6 495.9,187.6 496.4,187.6 496.9,187.5 497.4,187.5 497.9,187.5 498.4,187.4 498.9,187.5 499.4,187.4 499.9,187.5 500.4,187.5 500.9,187.5 501.4,187.5 501.9,187.5 502.4,187.5 502.9,187.5 503.4,187.5 503.9,187.5 504.4,187.5 504.9,187.5 505.4,187.5 505.9,187.5 506.4,187.5 506.9,187.5 507.4,187.5 507.9,187.6 508.4,187.5 508.9,187.5" fill="none" stroke="#9c2236" stroke-width="2.0" stroke-linejoin="round" opacity="1"/>
<polyline points="62.3,297.7 62.8,297.2 63.3,297.7 63.8,297.8 64.3,297.8 64.8,298.0 65.3,297.6 65.8,297.5 66.3,297.7 66.8,297.8 67.3,298.7 67.8,299.0 68.3,298.9 68.8,299.8 69.3,300.4 69.8,300.4 70.3,301.5 70.8,301.7 71.3,302.1 71.8,302.8 72.3,303.3 72.8,304.4 73.3,305.1 73.8,305.6 74.3,306.3 74.8,307.2 75.3,307.6 75.8,308.5 76.3,308.9 76.8,309.8 77.3,310.5 77.8,310.9 78.3,311.6 78.8,312.2 79.3,313.0 79.8,313.6 80.3,314.2 80.8,314.7 81.3,315.0 81.8,315.4 82.3,316.1 82.8,317.5 83.3,317.4 83.8,317.8 84.3,318.6 84.8,319.0 85.3,319.6 85.8,320.1 86.3,320.3 86.8,320.7 87.3,321.6 87.8,321.5 88.3,322.2 88.8,322.4 89.3,323.0 89.8,323.5 90.3,323.5 90.8,324.3 91.3,324.2 91.8,324.5 92.3,325.0 92.8,325.3 93.3,325.5 93.8,325.3 94.3,326.0 94.8,326.5 95.3,326.8 95.8,326.9 96.3,327.7 96.8,327.5 97.3,327.4 97.8,327.8 98.3,328.1 98.8,328.4 99.3,328.6 99.8,328.8 100.3,328.8 100.8,329.4 101.3,329.5 101.8,329.5 102.3,329.6 102.8,330.1 103.3,330.1 103.8,330.1 104.3,330.7 104.8,330.6 105.3,331.3 105.8,330.3 106.3,331.4 106.8,331.2 107.3,331.3 107.8,331.7 108.3,332.3 108.8,331.7 109.3,332.2 109.8,332.4 110.3,332.4 110.8,332.3 111.3,332.5 111.8,333.1 112.3,332.8 112.8,333.0 113.3,333.1 113.8,333.3 114.3,333.6 114.8,333.7 115.3,333.4 115.8,333.3 116.3,333.8 116.8,333.5 117.3,333.6 117.8,333.9 118.3,333.8 118.8,334.0 119.3,334.3 119.8,334.4 120.3,334.5 120.8,334.3 121.3,334.8 121.8,334.8 122.3,334.3 122.8,334.8 123.3,335.1 123.8,335.0 124.3,335.3 124.8,335.2 125.3,335.8 125.8,335.4 126.3,335.3 126.8,335.6 127.3,335.6 127.8,335.7 128.3,335.8 128.8,335.8 129.3,336.3 129.8,336.2 130.3,336.3 130.8,336.0 131.3,336.7 131.8,336.2 132.3,336.6 132.8,336.8 133.3,336.5 133.8,337.3 134.3,336.9 134.8,337.0 135.3,337.3 135.8,337.5 136.3,337.6 136.8,337.4 137.3,337.7 137.8,337.7 138.3,338.0 138.8,338.2 139.3,338.1 139.8,338.2 140.3,338.4 140.8,338.3 141.3,338.5 141.8,338.8 142.3,338.6 142.8,338.8 143.3,338.7 143.8,338.8 144.3,339.0 144.8,339.2 145.3,338.8 145.8,339.1 146.3,339.3 146.8,339.5 147.3,339.4 147.8,339.3 148.3,339.7 148.8,339.6 149.3,339.7 149.8,339.6 150.3,339.8 150.8,339.8 151.3,339.8 151.8,339.7 152.3,339.8 152.8,339.8 153.3,340.4 153.8,340.1 154.3,340.7 154.8,339.9 155.3,340.3 155.8,340.7 156.3,340.3 156.8,340.3 157.3,340.7 157.8,340.8 158.3,340.8 158.8,340.7 159.3,340.9 159.8,341.4 160.3,341.2 160.8,341.1 161.3,341.0 161.8,341.1 162.3,341.6 162.8,341.5 163.3,341.0 163.8,341.3 164.3,341.6 164.8,341.9 165.3,341.3 165.8,341.7 166.3,342.0 166.8,342.0 167.3,341.6" fill="none" stroke="#36517c" stroke-width="2.0" stroke-linejoin="round" opacity="1"/>
<polyline points="62.3,297.6 62.8,298.0 63.3,297.6 63.8,289.6 64.3,297.7 64.8,297.7 65.3,297.8 65.8,297.7 66.3,297.6 66.8,297.7 67.3,298.4 67.8,298.8 68.3,299.3 68.8,299.5 69.3,299.9 69.8,300.9 70.3,301.2 70.8,301.7 71.3,302.5 71.8,302.6 72.3,303.4 72.8,303.9 73.3,304.5 73.8,305.3 74.3,306.4 74.8,306.8 75.3,307.2 75.8,308.2 76.3,308.9 76.8,309.6 77.3,310.4 77.8,310.8 78.3,311.0 78.8,311.8 79.3,312.6 79.8,312.9 80.3,313.7 80.8,314.4 81.3,314.4 81.8,315.3 82.3,316.0 82.8,316.5 83.3,316.9 83.8,317.4 84.3,318.3 84.8,318.4 85.3,318.6 85.8,319.3 86.3,319.9 86.8,320.4 87.3,320.7 87.8,321.2 88.3,321.5 88.8,322.1 89.3,322.1 89.8,322.7 90.3,322.8 90.8,323.2 91.3,323.9 91.8,324.1 92.3,324.7 92.8,324.8 93.3,325.2 93.8,325.6 94.3,325.6 94.8,325.5 95.3,325.9 95.8,326.2 96.3,326.7 96.8,326.7 97.3,327.3 97.8,327.6 98.3,327.6 98.8,328.0 99.3,328.2 99.8,328.8 100.3,329.0 100.8,328.7 101.3,329.6 101.8,329.1 102.3,329.4 102.8,329.8 103.3,330.1 103.8,330.4 104.3,330.4 104.8,330.3 105.3,330.3 105.8,330.9 106.3,331.5 106.8,331.0 107.3,331.3 107.8,331.2 108.3,331.8 108.8,331.3 109.3,332.2 109.8,331.9 110.3,332.3 110.8,332.7 111.3,332.0 111.8,332.4 112.3,332.3 112.8,332.9 113.3,333.0 113.8,333.1 114.3,333.3 114.8,333.2 115.3,333.1 115.8,333.3 116.3,333.5 116.8,333.6 117.3,333.7 117.8,334.0 118.3,333.5 118.8,333.8 119.3,334.1 119.8,334.1 120.3,334.4 120.8,334.2 121.3,334.4 121.8,334.3 122.3,334.4 122.8,334.9 123.3,334.9 123.8,334.6 124.3,335.0 124.8,335.1 125.3,335.3 125.8,335.3 126.3,335.4 126.8,335.0 127.3,335.7 127.8,335.6 128.3,335.8 128.8,335.9 129.3,336.1 129.8,336.4 130.3,336.1 130.8,336.3 131.3,336.4 131.8,336.7 132.3,336.8 132.8,336.4 133.3,336.5 133.8,336.8 134.3,337.1 134.8,337.0 135.3,337.1 135.8,336.9 136.3,337.3 136.8,337.3 137.3,337.7 137.8,337.7 138.3,337.8 138.8,337.9 139.3,338.1 139.8,338.1 140.3,338.3 140.8,335.0 141.3,338.4 141.8,338.8 142.3,338.7 142.8,338.7 143.3,338.9 143.8,338.6 144.3,338.8 144.8,339.4 145.3,337.0 145.8,339.1 146.3,339.2 146.8,339.3 147.3,339.3 147.8,339.5 148.3,339.3 148.8,339.5 149.3,339.7 149.8,339.3 150.3,339.7 150.8,339.8 151.3,339.6 151.8,340.2 152.3,340.1 152.8,340.4 153.3,340.0 153.8,340.2 154.3,340.3 154.8,340.6 155.3,340.7 155.8,340.5 156.3,340.4 156.8,340.6 157.3,340.9 157.8,340.8 158.3,340.6 158.8,341.0 159.3,341.0 159.8,341.0 160.3,341.1 160.8,341.3 161.3,340.9 161.8,340.9 162.3,341.4 162.8,341.4 163.3,341.3 163.8,341.3 164.3,341.3 164.8,341.8 165.3,341.7 165.8,341.6 166.3,342.1 166.8,341.8 167.3,341.8" fill="none" stroke="#9c2236" stroke-width="2.0" stroke-linejoin="round" opacity="1"/>
<polyline points="61.6,435.8 62.0,437.3 62.4,438.7 62.8,439.4 63.2,439.8 63.6,440.0 64.0,439.5 64.4,438.2 64.8,436.8 65.2,435.1 65.6,434.7 66.0,434.9 66.4,434.8 66.8,434.7 67.2,434.8 67.6,434.6 68.0,435.0 68.4,434.7 68.8,434.9 69.2,434.8 69.6,434.9 70.0,435.0 70.4,435.0 70.8,435.0 71.2,434.9 71.6,434.7 72.0,435.0 72.4,434.7 72.8,434.8 73.2,434.7 73.6,435.1 74.0,435.1 74.4,434.7 74.8,434.7 75.2,434.7 75.6,434.8 76.0,434.9 76.4,434.9 76.8,434.6 77.2,434.9 77.6,435.0 78.0,434.8 78.4,434.9 78.8,434.8 79.2,434.9 79.6,434.7 80.0,434.9 80.4,434.9 80.8,434.8 81.2,434.9 81.6,434.8 82.0,434.8 82.4,434.8 82.8,434.9 83.2,434.6 83.6,435.0 84.0,434.8 84.4,434.7 84.8,434.8 85.2,435.1 85.6,434.8 86.0,434.8 86.4,434.8 86.8,434.9 87.2,435.1 87.6,435.0 88.0,435.0 88.4,434.8 88.8,434.9 89.2,434.8 89.6,434.8 90.0,434.7 90.4,434.8 90.8,435.1 91.2,434.9 91.6,434.9 92.0,434.8 92.4,434.9 92.8,434.8 93.2,434.7 93.6,435.0 94.0,435.0 94.4,435.1 94.8,434.7 95.2,435.0 95.6,434.9 96.0,435.1 96.4,434.7 96.8,434.8 97.2,434.7 97.6,434.9 98.0,434.9 98.4,435.0 98.8,435.0 99.2,434.9 99.6,435.0 100.0,434.8 100.4,434.9 100.8,435.1 101.2,434.7 101.6,434.7 102.0,435.0 102.4,434.7 102.8,434.7 103.2,434.9 103.6,434.9 104.0,435.0 104.4,434.6 104.8,434.7 105.2,434.7 105.6,434.8 106.0,434.9 106.4,434.7 106.8,435.0 107.2,434.9 107.6,434.7 108.0,435.2 108.4,435.1 108.8,434.8 109.2,434.9 109.6,434.6 110.0,435.1 110.4,434.8 110.8,434.7 111.2,434.9 111.6,434.7 112.0,434.8 112.4,434.9 112.8,435.1 113.2,435.0 113.6,434.9 114.0,435.1 114.4,434.8 114.8,434.8 115.2,435.0 115.6,434.8 116.0,434.8 116.4,435.0 116.8,434.8 117.2,435.0 117.6,434.9 118.0,434.8 118.4,435.0 118.8,434.9 119.2,435.0 119.6,434.8 120.0,435.0 120.4,435.0 120.8,434.8 121.2,434.9 121.6,434.9 122.0,434.8 122.4,434.9 122.8,434.9 123.2,434.8 123.6,434.9 124.0,435.0 124.4,434.8 124.8,434.9 125.2,434.7 125.6,434.7 126.0,434.8 126.4,434.8 126.8,434.8 127.2,435.0 127.6,435.2 128.0,434.9 128.4,434.9 128.8,434.7 129.2,435.0 129.6,434.4 130.0,434.6 130.4,434.8 130.8,434.9 131.2,435.2 131.6,434.9 132.0,434.9 132.4,434.4 132.8,435.1 133.2,434.8 133.6,434.8 134.0,434.9 134.4,435.1 134.8,434.7 135.2,434.7 135.6,434.9 136.0,434.9 136.4,435.1 136.8,434.9 137.2,434.8 137.6,435.0 138.0,434.7 138.4,434.9 138.8,435.0 139.2,435.0 139.6,435.0 140.0,435.0 140.4,434.7 140.8,434.6 141.2,435.0 141.6,434.7 142.0,435.1 142.4,434.9 142.8,435.0 143.2,435.1 143.6,435.0 144.0,435.1 144.4,435.0 144.8,435.0 145.2,435.0 145.6,434.7 146.0,434.8 146.4,435.0 146.8,434.8 147.2,434.9 147.6,435.2 148.0,434.9 148.4,434.7 148.8,435.0 149.2,434.8 149.6,435.1 150.0,435.0 150.4,434.8 150.8,434.8 151.2,435.0 151.6,435.0 152.0,434.7 152.4,434.7 152.8,434.8 153.2,435.0 153.6,434.9 154.0,434.7 154.4,434.7 154.8,435.1 155.2,434.9 155.6,434.7 156.0,434.9 156.4,434.6 156.8,434.9 157.2,435.0 157.6,434.9 158.0,434.9 158.4,435.0 158.8,435.0 159.2,434.8 159.6,435.0 160.0,434.8 160.4,435.1 160.8,435.0 161.2,434.8 161.6,435.2 162.0,434.9 162.4,434.8 162.8,434.9 163.2,435.0 163.6,434.8 164.0,434.9 164.4,435.1 164.8,434.9 165.2,434.9 165.6,434.9 166.0,435.0 166.4,435.0 166.8,435.1 167.2,435.0" fill="none" stroke="#36517c" stroke-width="2.0" stroke-linejoin="round" opacity="1"/>
<polyline points="61.6,435.9 62.0,437.4 62.4,438.8 62.8,439.2 63.2,439.7 63.6,440.1 64.0,439.5 64.4,438.0 64.8,436.9 65.2,435.4 65.6,435.0 66.0,434.8 66.4,434.7 66.8,434.7 67.2,434.6 67.6,434.8 68.0,434.8 68.4,435.0 68.8,434.9 69.2,434.9 69.6,434.8 70.0,434.4 70.4,434.9 70.8,435.0 71.2,434.8 71.6,434.8 72.0,434.8 72.4,435.0 72.8,434.8 73.2,434.6 73.6,434.7 74.0,434.7 74.4,434.9 74.8,435.1 75.2,434.7 75.6,434.6 76.0,434.9 76.4,434.6 76.8,434.9 77.2,434.7 77.6,434.8 78.0,434.9 78.4,434.8 78.8,435.0 79.2,434.9 79.6,434.9 80.0,434.9 80.4,435.0 80.8,435.0 81.2,435.0 81.6,434.9 82.0,434.5 82.4,434.8 82.8,434.8 83.2,435.0 83.6,435.0 84.0,434.8 84.4,435.0 84.8,434.7 85.2,434.8 85.6,434.8 86.0,434.9 86.4,434.9 86.8,434.9 87.2,435.0 87.6,434.7 88.0,435.1 88.4,434.9 88.8,435.0 89.2,434.7 89.6,434.9 90.0,434.9 90.4,434.8 90.8,434.8 91.2,434.8 91.6,434.8 92.0,434.9 92.4,434.9 92.8,435.0 93.2,434.9 93.6,434.9 94.0,435.0 94.4,434.9 94.8,435.0 95.2,434.8 95.6,435.1 96.0,434.8 96.4,435.0 96.8,434.8 97.2,434.7 97.6,435.0 98.0,434.9 98.4,434.7 98.8,434.7 99.2,434.7 99.6,434.7 100.0,434.8 100.4,435.0 100.8,434.8 101.2,435.0 101.6,434.8 102.0,435.0 102.4,434.9 102.8,434.9 103.2,434.9 103.6,434.7 104.0,434.9 104.4,435.0 104.8,434.7 105.2,434.7 105.6,435.0 106.0,435.0 106.4,434.8 106.8,435.1 107.2,435.0 107.6,434.7 108.0,435.0 108.4,435.0 108.8,434.9 109.2,435.0 109.6,434.9 110.0,434.8 110.4,435.1 110.8,434.9 111.2,434.7 111.6,434.9 112.0,435.1 112.4,434.8 112.8,434.9 113.2,435.1 113.6,434.9 114.0,434.8 114.4,434.7 114.8,434.8 115.2,435.0 115.6,434.9 116.0,435.0 116.4,435.1 116.8,434.9 117.2,434.9 117.6,434.9 118.0,435.0 118.4,434.8 118.8,434.8 119.2,434.9 119.6,435.0 120.0,435.1 120.4,434.8 120.8,435.0 121.2,435.0 121.6,435.0 122.0,434.9 122.4,434.7 122.8,434.9 123.2,435.1 123.6,434.9 124.0,435.0 124.4,434.8 124.8,435.0 125.2,435.0 125.6,435.0 126.0,434.9 126.4,434.9 126.8,435.0 127.2,434.9 127.6,434.9 128.0,434.9 128.4,434.6 128.8,435.1 129.2,434.9 129.6,435.0 130.0,434.7 130.4,435.1 130.8,434.9 131.2,435.0 131.6,435.0 132.0,434.8 132.4,435.1 132.8,435.1 133.2,434.9 133.6,434.9 134.0,434.9 134.4,435.1 134.8,434.7 135.2,434.9 135.6,435.0 136.0,434.8 136.4,434.8 136.8,435.0 137.2,434.9 137.6,434.7 138.0,434.9 138.4,435.0 138.8,434.9 139.2,434.9 139.6,434.8 140.0,434.7 140.4,434.8 140.8,434.9 141.2,434.9 141.6,434.7 142.0,435.1 142.4,434.9 142.8,435.0 143.2,435.0 143.6,435.0 144.0,434.9 144.4,435.1 144.8,435.0 145.2,434.9 145.6,434.6 146.0,434.8 146.4,435.0 146.8,434.9 147.2,434.8 147.6,435.0 148.0,434.8 148.4,435.1 148.8,434.8 149.2,435.0 149.6,434.9 150.0,434.7 150.4,434.8 150.8,434.8 151.2,435.0 151.6,434.7 152.0,435.0 152.4,434.9 152.8,434.8 153.2,434.9 153.6,434.8 154.0,435.0 154.4,434.9 154.8,434.9 155.2,434.8 155.6,435.0 156.0,434.9 156.4,434.9 156.8,434.8 157.2,435.0 157.6,434.8 158.0,434.8 158.4,434.8 158.8,434.8 159.2,435.1 159.6,434.9 160.0,434.9 160.4,434.9 160.8,434.9 161.2,435.1 161.6,435.0 162.0,435.0 162.4,435.1 162.8,434.9 163.2,434.8 163.6,434.8 164.0,434.8 164.4,434.8 164.8,435.0 165.2,434.8 165.6,434.9 166.0,434.8 166.4,434.7 166.8,435.0 167.2,435.0" fill="none" stroke="#9c2236" stroke-width="2.0" stroke-linejoin="round" opacity="1"/>
<polyline points="246.5,296.1 247.0,297.7 247.5,299.8 248.0,295.3 248.5,299.0 249.0,294.3 249.5,297.0 250.0,296.9 250.5,299.3 251.0,294.7 251.5,297.8 252.0,299.6 252.5,300.0 253.0,296.2 253.5,298.6 254.0,293.5 254.5,297.9 255.0,298.2 255.5,295.9 256.0,298.2 256.5,296.6 257.0,296.9 257.5,296.6 258.0,295.8 258.5,296.7 259.0,299.5 259.5,297.1 260.0,300.8 260.5,299.1 261.0,301.0 261.5,302.6 262.0,299.3 262.5,298.7 263.0,298.5 263.5,301.8 264.0,306.7 264.5,304.9 265.0,303.4 265.5,302.7 266.0,303.0 266.5,303.3 267.0,303.5 267.5,302.9 268.0,306.4 268.5,305.4 269.0,303.6 269.5,305.9 270.0,303.6 270.5,306.0 271.0,303.7 271.5,302.9 272.0,307.3 272.5,310.3 273.0,307.7 273.5,302.1 274.0,308.6 274.5,307.7 275.0,310.1 275.5,308.3 276.0,308.6 276.5,310.0 277.0,310.9 277.5,309.8 278.0,312.1 278.5,307.5 279.0,312.9 279.5,310.2 280.0,312.3 280.5,311.9 281.0,316.7 281.5,315.3 282.0,316.8 282.5,316.3 283.0,313.3 283.5,316.3 284.0,319.8 284.5,319.3 285.0,320.4 285.5,314.9 286.0,319.1 286.5,320.0 287.0,317.7 287.5,316.0 288.0,320.7 288.5,321.9 289.0,321.9 289.5,323.5 290.0,326.4 290.5,322.9 291.0,321.6 291.5,323.3 292.0,322.4 292.5,321.7 293.0,327.2 293.5,323.1 294.0,326.2 294.5,325.3 295.0,329.8 295.5,324.6 296.0,326.4 296.5,329.1 297.0,330.5 297.5,328.0 298.0,332.7 298.5,331.0 299.0,331.6 299.5,327.7 300.0,332.9 300.5,331.1 301.0,332.0 301.5,332.4 302.0,334.5 302.5,334.2 303.0,333.9 303.5,333.1 304.0,336.5 304.5,335.7 305.0,336.3 305.5,338.4 306.0,336.2 306.5,336.3 307.0,342.9 307.5,336.0 308.0,339.2 308.5,338.2 309.0,338.7 309.5,337.7 310.0,337.5 310.5,336.7 311.0,342.1 311.5,340.5 312.0,340.2 312.5,340.3 313.0,343.2 313.5,343.0 314.0,344.3 314.5,344.9 315.0,343.5 315.5,343.1 316.0,344.3 316.5,342.6 317.0,344.3 317.5,346.5 318.0,345.4 318.5,345.7 319.0,345.0 319.5,346.7 320.0,344.8 320.5,346.5 321.0,345.9 321.5,347.4 322.0,345.4 322.5,348.7 323.0,350.6 323.5,347.2 324.0,347.8 324.5,349.5 325.0,349.3 325.5,349.7 326.0,346.0 326.5,348.6 327.0,345.5 327.5,345.7 328.0,349.9 328.5,347.6 329.0,348.9 329.5,347.4 330.0,349.5 330.5,350.2 331.0,350.7 331.5,350.1 332.0,350.3 332.5,350.1 333.0,348.2 333.5,344.9 334.0,349.1 334.5,348.8 335.0,349.6 335.5,352.3 336.0,352.2 336.5,349.9 337.0,349.9 337.5,351.1 338.0,355.4 338.5,349.2 339.0,351.1 339.5,352.6 340.0,351.9 340.5,350.9 341.0,354.3 341.5,352.3 342.0,353.2 342.5,350.1 343.0,348.4 343.5,352.5 344.0,352.8 344.5,352.7 345.0,353.0 345.5,353.7 346.0,354.8 346.5,359.4 347.0,352.1 347.5,352.5 348.0,348.5 348.5,353.9 349.0,350.8 349.5,353.1 350.0,352.0 350.5,355.9 351.0,354.1" fill="none" stroke="#36517c" stroke-width="1.1" stroke-linejoin="miter" stroke-miterlimit="2"/>
<polyline points="246.5,298.6 247.0,297.4 247.5,297.5 248.0,297.3 248.5,297.8 249.0,297.5 249.5,296.7 250.0,297.1 250.5,297.0 251.0,297.7 251.5,298.5 252.0,298.1 252.5,298.2 253.0,298.2 253.5,297.2 254.0,297.4 254.5,297.1 255.0,298.3 255.5,298.1 256.0,297.7 256.5,298.5 257.0,298.4 257.5,299.0 258.0,298.7 258.5,298.7 259.0,299.2 259.5,299.3 260.0,300.0 260.5,299.7 261.0,299.9 261.5,300.4 262.0,300.0 262.5,300.6 263.0,301.3 263.5,300.9 264.0,302.0 264.5,301.5 265.0,302.0 265.5,302.6 266.0,302.7 266.5,302.4 267.0,302.5 267.5,303.6 268.0,303.4 268.5,304.0 269.0,304.7 269.5,304.6 270.0,304.8 270.5,304.9 271.0,305.7 271.5,306.9 272.0,305.9 272.5,306.0 273.0,306.7 273.5,307.7 274.0,307.5 274.5,307.9 275.0,308.3 275.5,308.7 276.0,308.7 276.5,309.0 277.0,309.8 277.5,311.0 278.0,310.0 278.5,311.0 279.0,311.5 279.5,311.8 280.0,312.5 280.5,312.6 281.0,313.7 281.5,313.5 282.0,313.7 282.5,314.7 283.0,315.5 283.5,316.9 284.0,316.2 284.5,317.4 285.0,316.6 285.5,318.1 286.0,318.8 286.5,318.7 287.0,319.5 287.5,319.5 288.0,319.9 288.5,320.5 289.0,321.3 289.5,320.9 290.0,322.5 290.5,322.4 291.0,322.7 291.5,323.9 292.0,324.0 292.5,325.3 293.0,324.4 293.5,325.2 294.0,325.5 294.5,326.7 295.0,326.3 295.5,326.5 296.0,326.6 296.5,327.4 297.0,328.5 297.5,328.7 298.0,330.0 298.5,329.5 299.0,330.7 299.5,330.8 300.0,331.9 300.5,332.3 301.0,332.9 301.5,332.9 302.0,334.4 302.5,334.3 303.0,334.8 303.5,335.2 304.0,335.6 304.5,336.7 305.0,337.0 305.5,337.0 306.0,337.0 306.5,337.8 307.0,337.9 307.5,337.6 308.0,338.6 308.5,339.2 309.0,339.2 309.5,339.7 310.0,340.5 310.5,340.9 311.0,340.1 311.5,341.3 312.0,341.5 312.5,341.9 313.0,341.8 313.5,342.4 314.0,341.8 314.5,342.7 315.0,343.4 315.5,342.9 316.0,343.5 316.5,343.6 317.0,344.2 317.5,344.8 318.0,344.5 318.5,345.6 319.0,344.9 319.5,345.6 320.0,345.7 320.5,345.3 321.0,345.6 321.5,346.2 322.0,346.0 322.5,346.1 323.0,346.7 323.5,346.5 324.0,347.2 324.5,347.2 325.0,347.8 325.5,348.1 326.0,347.3 326.5,348.0 327.0,348.6 327.5,349.4 328.0,348.6 328.5,348.9 329.0,348.7 329.5,350.0 330.0,349.1 330.5,349.6 331.0,349.9 331.5,349.2 332.0,349.3 332.5,349.5 333.0,350.0 333.5,350.4 334.0,350.0 334.5,351.0 335.0,350.2 335.5,350.7 336.0,350.6 336.5,350.4 337.0,350.7 337.5,350.9 338.0,350.6 338.5,351.1 339.0,350.9 339.5,351.7 340.0,351.0 340.5,351.1 341.0,351.3 341.5,351.9 342.0,352.3 342.5,351.5 343.0,352.3 343.5,352.4 344.0,352.1 344.5,352.6 345.0,352.6 345.5,352.3 346.0,351.9 346.5,352.7 347.0,352.6 347.5,352.9 348.0,353.2 348.5,353.8 349.0,353.0 349.5,353.6 350.0,353.4 350.5,353.3 351.0,353.2" fill="none" stroke="#36517c" stroke-width="2.0" stroke-linejoin="round"/>
<polyline points="246.3,290.5 246.8,304.5 247.3,298.5 247.8,293.6 248.3,298.8 248.8,295.9 249.3,297.3 249.8,292.8 250.3,299.6 250.8,297.0 251.3,298.3 251.8,297.7 252.3,296.5 252.8,299.7 253.3,296.0 253.8,300.3 254.3,299.7 254.8,301.9 255.3,301.1 255.8,295.4 256.3,304.7 256.8,293.7 257.3,289.5 257.8,298.9 258.3,296.8 258.8,299.8 259.3,302.3 259.8,302.7 260.3,301.4 260.8,300.1 261.3,305.0 261.8,296.4 262.3,300.8 262.8,301.3 263.3,300.2 263.8,301.7 264.3,302.3 264.8,301.9 265.3,302.4 265.8,305.0 266.3,301.7 266.8,302.0 267.3,298.8 267.8,307.0 268.3,302.7 268.8,299.6 269.3,297.0 269.8,305.1 270.3,299.7 270.8,302.2 271.3,306.5 271.8,304.1 272.3,304.8 272.8,310.9 273.3,304.0 273.8,310.0 274.3,305.7 274.8,308.3 275.3,305.4 275.8,308.7 276.3,308.4 276.8,303.9 277.3,307.3 277.8,313.1 278.3,306.4 278.8,309.9 279.3,309.6 279.8,309.4 280.3,311.3 280.8,312.5 281.3,312.6 281.8,311.8 282.3,310.2 282.8,312.2 283.3,309.8 283.8,312.0 284.3,315.7 284.8,314.1 285.3,313.0 285.8,314.4 286.3,316.0 286.8,321.3 287.3,315.3 287.8,321.8 288.3,318.9 288.8,320.3 289.3,318.7 289.8,318.8 290.3,316.6 290.8,317.3 291.3,320.4 291.8,315.8 292.3,316.6 292.8,317.0 293.3,317.3 293.8,324.9 294.3,319.1 294.8,322.6 295.3,324.1 295.8,318.8 296.3,327.9 296.8,323.5 297.3,325.8 297.8,325.7 298.3,325.2 298.8,326.5 299.3,327.3 299.8,326.6 300.3,331.1 300.8,326.6 301.3,328.5 301.8,333.4 302.3,329.9 302.8,328.6 303.3,327.4 303.8,333.3 304.3,330.3 304.8,332.4 305.3,329.5 305.8,330.9 306.3,334.1 306.8,329.0 307.3,332.4 307.8,328.3 308.3,334.1 308.8,329.9 309.3,331.7 309.8,332.4 310.3,333.8 310.8,333.9 311.3,334.1 311.8,334.6 312.3,333.5 312.8,340.8 313.3,331.6 313.8,338.7 314.3,335.1 314.8,335.8 315.3,338.3 315.8,337.9 316.3,340.9 316.8,331.9 317.3,335.8 317.8,338.8 318.3,340.0 318.8,334.2 319.3,340.8 319.8,339.6 320.3,339.4 320.8,335.2 321.3,339.2 321.8,339.7 322.3,341.0 322.8,344.8 323.3,340.6 323.8,339.8 324.3,343.0 324.8,341.9 325.3,341.0 325.8,343.9 326.3,344.4 326.8,340.2 327.3,342.1 327.8,344.6 328.3,344.3 328.8,345.8 329.3,343.3 329.8,340.5 330.3,344.1 330.8,342.4 331.3,344.0 331.8,343.4 332.3,344.0 332.8,348.2 333.3,348.4 333.8,344.7 334.3,345.6 334.8,347.7 335.3,342.9 335.8,345.1 336.3,344.9 336.8,345.1 337.3,341.4 337.8,352.6 338.3,344.7 338.8,343.5 339.3,350.2 339.8,343.5 340.3,349.8 340.8,350.0 341.3,347.9 341.8,346.8 342.3,348.1 342.8,345.0 343.3,348.7 343.8,352.0 344.3,351.5 344.8,350.2 345.3,348.7 345.8,350.5 346.3,348.1 346.8,353.3 347.3,345.7 347.8,349.6 348.3,345.9 348.8,353.0 349.3,347.4 349.8,350.2 350.3,347.6 350.8,351.5 351.3,346.1 351.8,353.3 352.3,348.5" fill="none" stroke="#9c2236" stroke-width="1.1" stroke-linejoin="miter" stroke-miterlimit="2"/>
<polyline points="246.3,290.5 246.8,304.5 247.3,297.8 247.8,298.2 248.3,297.9 248.8,298.1 249.3,297.6 249.8,298.9 250.3,298.0 250.8,297.9 251.3,299.2 251.8,298.6 252.3,298.2 252.8,298.3 253.3,297.6 253.8,298.1 254.3,298.2 254.8,297.0 255.3,298.6 255.8,298.6 256.3,298.8 256.8,298.9 257.3,289.5 257.8,297.8 258.3,297.9 258.8,298.8 259.3,298.6 259.8,299.2 260.3,299.6 260.8,299.5 261.3,300.4 261.8,301.3 262.3,300.6 262.8,300.9 263.3,301.2 263.8,302.5 264.3,302.4 264.8,303.4 265.3,303.3 265.8,303.7 266.3,303.7 266.8,302.8 267.3,304.0 267.8,303.7 268.3,303.5 268.8,303.8 269.3,304.5 269.8,304.3 270.3,304.3 270.8,304.7 271.3,305.1 271.8,305.4 272.3,305.1 272.8,307.1 273.3,306.3 273.8,308.6 274.3,307.1 274.8,307.8 275.3,307.5 275.8,307.7 276.3,308.4 276.8,309.6 277.3,308.9 277.8,309.1 278.3,309.6 278.8,309.8 279.3,309.9 279.8,309.4 280.3,311.2 280.8,310.8 281.3,312.1 281.8,311.8 282.3,312.1 282.8,312.1 283.3,313.8 283.8,313.0 284.3,313.9 284.8,314.7 285.3,314.9 285.8,313.9 286.3,315.4 286.8,315.5 287.3,316.3 287.8,317.2 288.3,317.5 288.8,316.8 289.3,318.2 289.8,318.4 290.3,318.7 290.8,319.0 291.3,319.3 291.8,320.6 292.3,320.1 292.8,320.3 293.3,320.7 293.8,322.1 294.3,322.0 294.8,322.3 295.3,323.5 295.8,323.5 296.3,324.2 296.8,325.0 297.3,324.6 297.8,325.2 298.3,325.5 298.8,326.5 299.3,326.3 299.8,327.9 300.3,327.7 300.8,328.4 301.3,329.2 301.8,329.0 302.3,329.5 302.8,329.5 303.3,330.5 303.8,329.1 304.3,330.8 304.8,329.9 305.3,331.0 305.8,330.9 306.3,330.8 306.8,331.8 307.3,331.6 307.8,331.4 308.3,331.9 308.8,332.4 309.3,333.2 309.8,332.9 310.3,333.6 310.8,334.2 311.3,334.0 311.8,334.3 312.3,334.6 312.8,335.6 313.3,335.7 313.8,335.4 314.3,335.2 314.8,336.2 315.3,336.1 315.8,337.2 316.3,337.7 316.8,337.4 317.3,337.6 317.8,338.4 318.3,338.0 318.8,338.7 319.3,338.3 319.8,338.4 320.3,338.3 320.8,339.5 321.3,339.9 321.8,339.9 322.3,339.8 322.8,339.9 323.3,340.3 323.8,340.8 324.3,341.1 324.8,340.5 325.3,341.8 325.8,341.2 326.3,341.5 326.8,342.4 327.3,342.5 327.8,342.5 328.3,342.6 328.8,343.8 329.3,343.1 329.8,343.4 330.3,343.3 330.8,343.6 331.3,343.4 331.8,344.5 332.3,343.8 332.8,345.0 333.3,344.8 333.8,345.5 334.3,344.8 334.8,345.3 335.3,344.5 335.8,345.1 336.3,345.3 336.8,345.3 337.3,345.7 337.8,346.0 338.3,346.1 338.8,345.7 339.3,346.0 339.8,345.9 340.3,346.4 340.8,346.2 341.3,346.9 341.8,347.6 342.3,347.6 342.8,347.8 343.3,348.0 343.8,347.6 344.3,347.3 344.8,347.9 345.3,348.3 345.8,348.8 346.3,349.5 346.8,348.8 347.3,349.3 347.8,348.8 348.3,349.4 348.8,350.2 349.3,349.6 349.8,350.2 350.3,350.2 350.8,349.7 351.3,350.2 351.8,350.6 352.3,350.4" fill="none" stroke="#9c2236" stroke-width="2.2" stroke-linejoin="round"/>
</svg></div></body></html>
